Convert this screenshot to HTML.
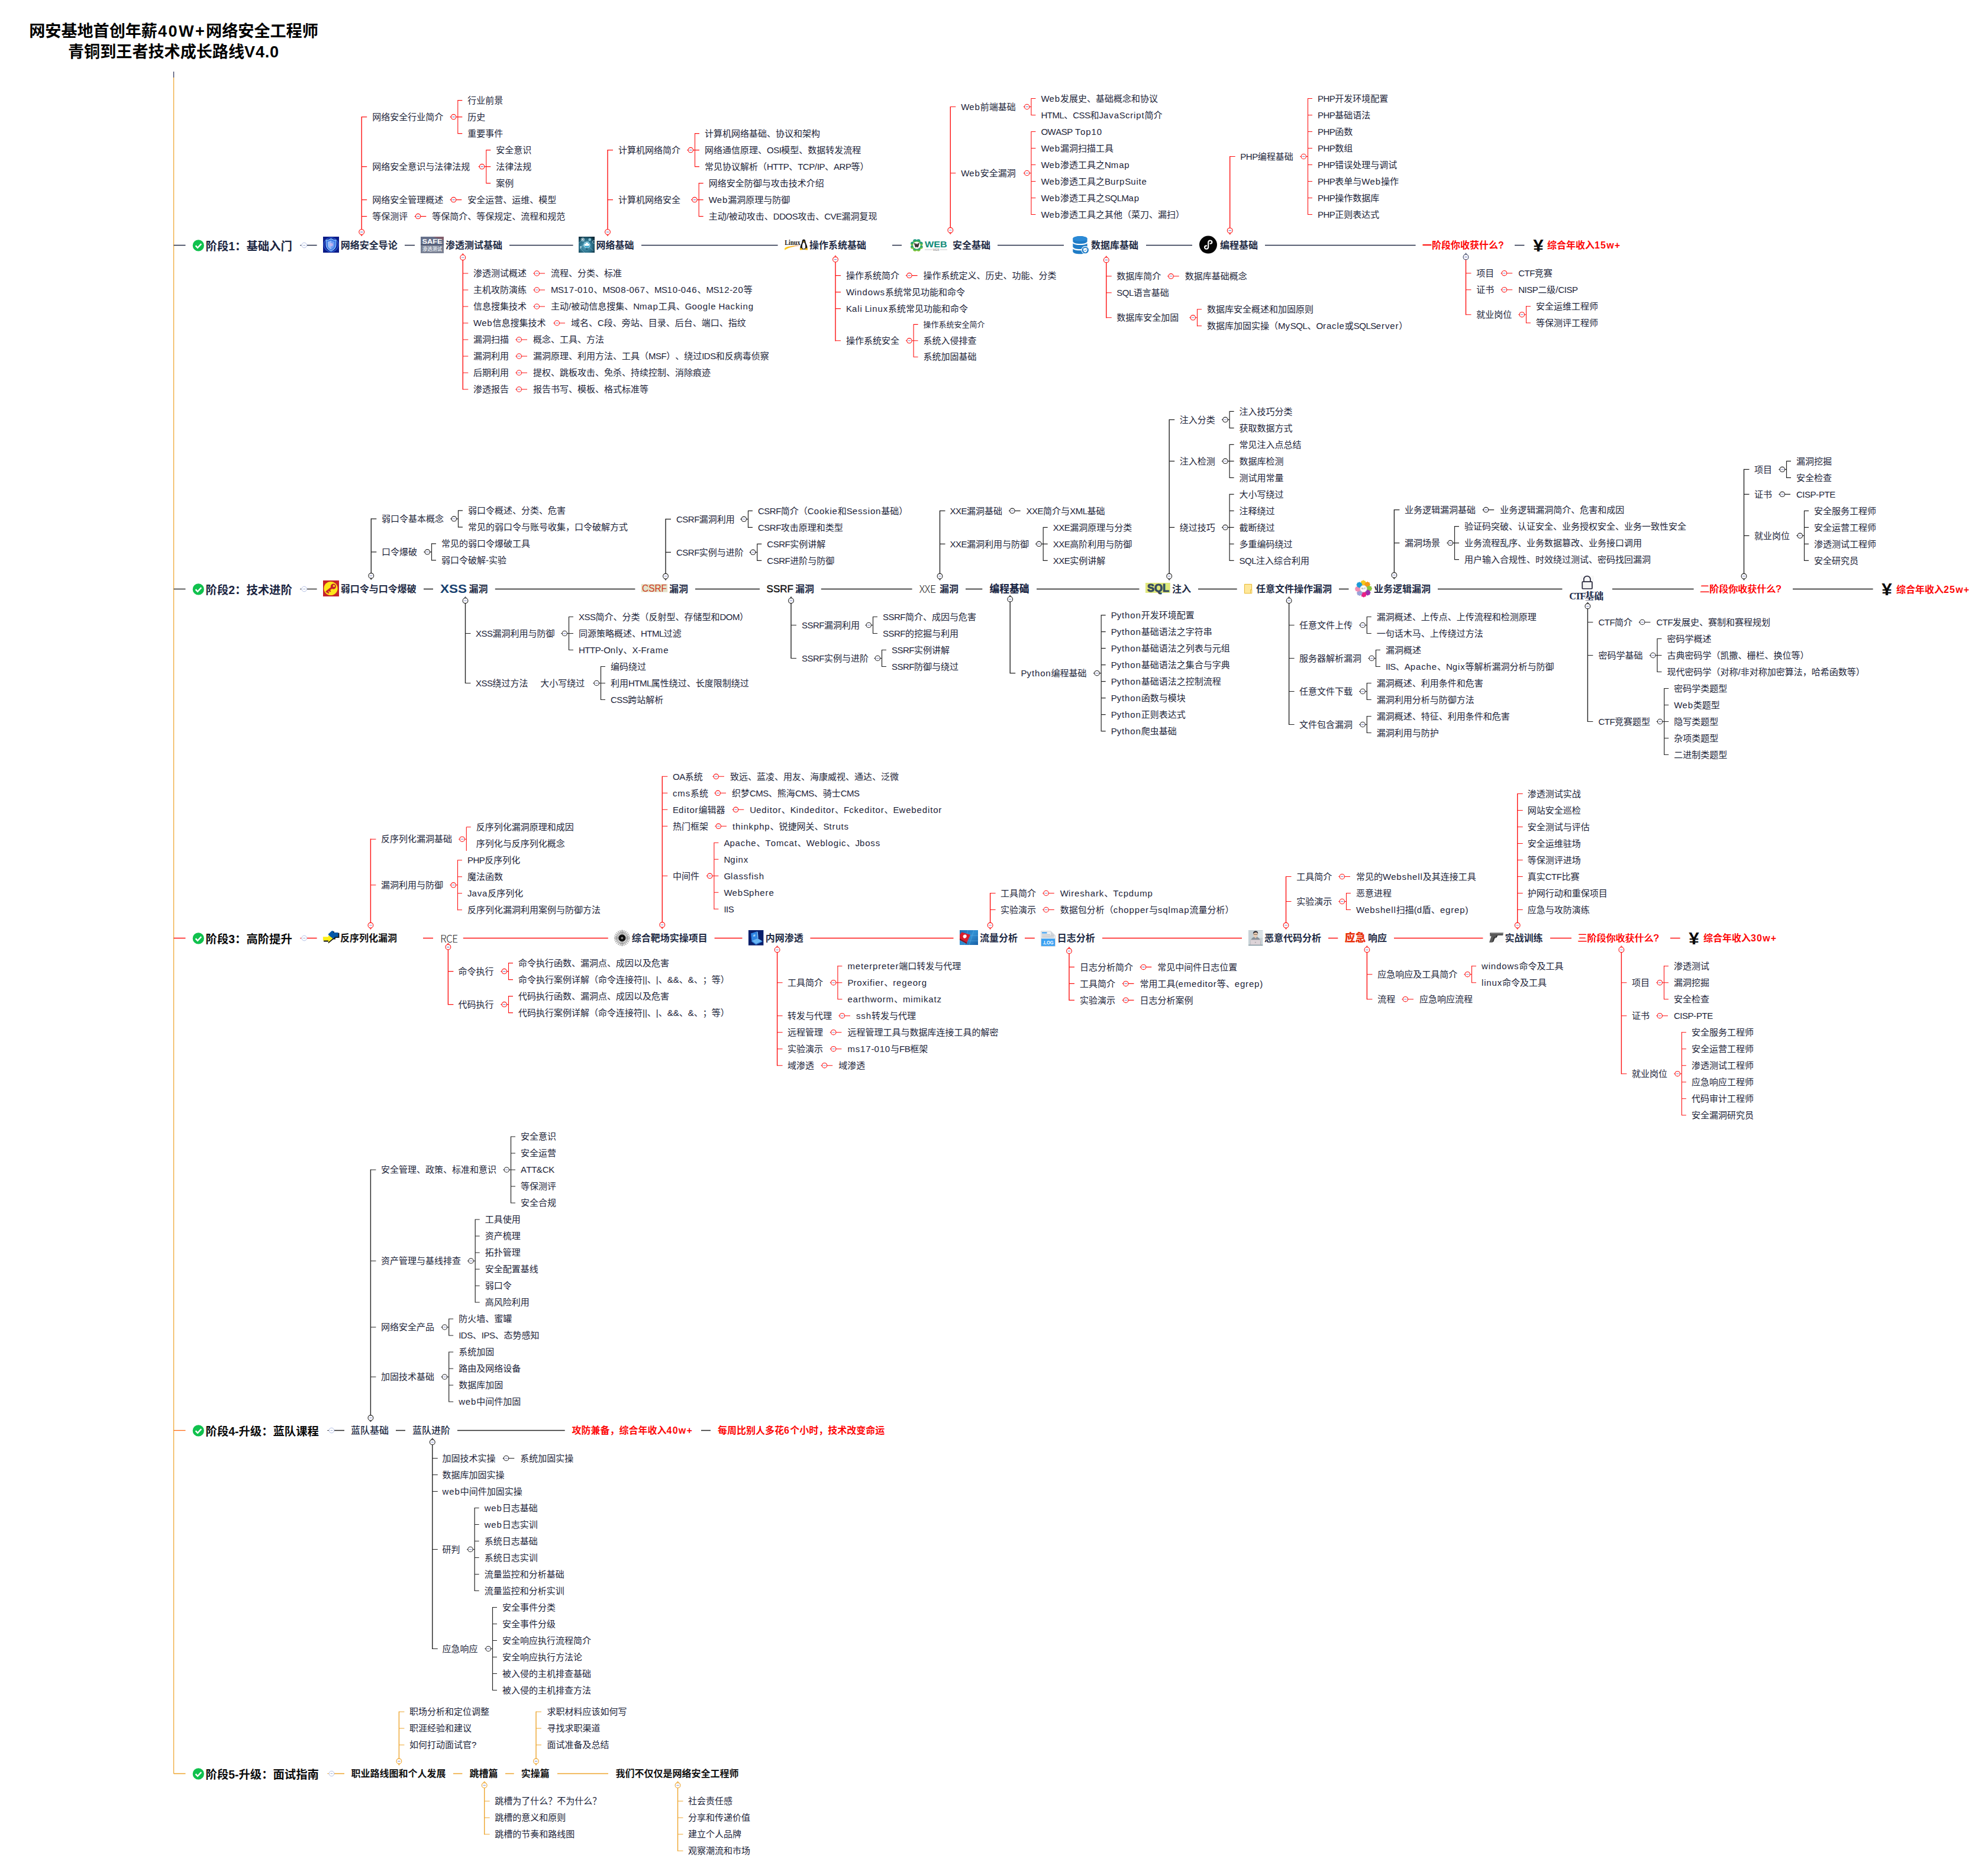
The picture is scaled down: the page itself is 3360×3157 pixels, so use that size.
<!DOCTYPE html><html lang="zh"><head><meta charset="utf-8"><title>网络安全工程师成长路线</title><style>
html,body{margin:0;padding:0;background:#fff}
#c{position:relative;width:3360px;height:3157px;overflow:hidden;background:#fff;font-family:"Liberation Sans","Noto Sans CJK SC",sans-serif;color:#1c2439;text-spacing-trim:space-all;font-kerning:none}
#c span{position:absolute;white-space:pre}
.l{font-size:15px;line-height:20px;margin-top:-9.8px}
.s{font-size:13px;line-height:20px;margin-top:-9.8px}
.t{font-size:16px;line-height:22px;margin-top:-10.6px;font-weight:700;color:#222b45}
.st{font-size:19.35px;line-height:26px;margin-top:-11.7px;font-weight:700;color:#1b2541}
.h1{font-size:27.1px;line-height:36px;font-weight:700;color:#000;text-align:center}
.r{color:#fa0a0a}
.k{color:#111}
#c b{font-weight:inherit;letter-spacing:.85px}
#c i{font-style:normal;letter-spacing:-.5px}
#c u{text-decoration:none;letter-spacing:1.2px}
#c em{font-style:normal;letter-spacing:-2px}

</style></head><body><div id="c">
<svg width="3360" height="3157" viewBox="0 0 3360 3157" style="position:absolute;left:0;top:0">
<path d="M293.6 121V131" stroke="#2a2f55" stroke-width="1.2" fill="none"/>
<path d="M293.6 131V2997.5M674.4 2893H683.4M674.4 2921H683.4M674.4 2949H683.4M818.7 3044H827.7M818.7 3072H827.7M818.7 3100H827.7M906 2893H915M906 2921H915M906 2949H915M1145.5 3044H1154.5M1145.5 3072H1154.5M1145.5 3100H1154.5M1145.5 3128H1154.5" stroke="#eda52e" stroke-width="1.2" fill="none"/>
<path d="M293.6 414.5H313.5M518.8 414.5H535.6M684 414.5H701M861 414.5H968.6M1084 414.5H1314.6M1508 414.5H1524M1686 414.5H1798M1937 414.5H2015M2138 414.5H2392.6M2560 414.5H2576.4" stroke="#222b45" stroke-width="1.3" fill="none"/>
<path d="M507.2 414.5H509.6" stroke="#222b45" stroke-width="1.1" fill="none"/>
<path d="M760.6 197.6H762.4M770.8 197.6H773.8M773.8 169V226.2M773.8 169.6H781.3M773.8 197.6H781.3M773.8 225.6H781.3M808.6 281.6H810.4M818.8 281.6H821.8M821.8 253V310.2M821.8 253.6H829.3M821.8 281.6H829.3M821.8 309.6H829.3M760.6 337.6H762.4M770.8 337.6H780.3M700.6 365.6H702.4M710.8 365.6H720.3M611.2 197.6H620.2M611.2 281.6H620.2M611.2 337.6H620.2M611.2 365.6H620.2M901.3 462H903.1M911.5 462H921M901.3 490H903.1M911.5 490H921M901.3 518H903.1M911.5 518H921M935.3 546H937.1M945.5 546H955M871.3 574H873.1M881.5 574H891M871.3 602H873.1M881.5 602H891M871.3 630H873.1M881.5 630H891M871.3 658H873.1M881.5 658H891M782.3 462H791.3M782.3 490H791.3M782.3 518H791.3M782.3 546H791.3M782.3 574H791.3M782.3 602H791.3M782.3 630H791.3M782.3 658H791.3M1161.3 253.6H1163.1M1171.5 253.6H1174.5M1174.5 225V282.2M1174.5 225.6H1182M1174.5 253.6H1182M1174.5 281.6H1182M1168 337.6H1169.8M1178.2 337.6H1181.2M1181.2 309V366.2M1181.2 309.6H1188.7M1181.2 337.6H1188.7M1181.2 365.6H1188.7M1027 253.6H1036M1027 337.6H1036M1530.9 465.6H1532.7M1541.1 465.6H1550.6M1530.9 575.8H1532.7M1541.1 575.8H1544.1M1544.1 547.8V603.8M1544.1 548.4H1551.6M1544.1 575.8H1551.6M1544.1 603.2H1551.6M1412 465.6H1421M1412 493.6H1421M1412 521.6H1421M1412 575.8H1421M1729.7 180.5H1731.5M1739.9 180.5H1742.9M1742.9 165.9V195.1M1742.9 166.5H1750.4M1742.9 194.5H1750.4M1729.7 292.5H1731.5M1739.9 292.5H1742.9M1742.9 221.9V363.1M1742.9 222.5H1750.4M1742.9 250.5H1750.4M1742.9 278.5H1750.4M1742.9 306.5H1750.4M1742.9 334.5H1750.4M1742.9 362.5H1750.4M1606.3 180.5H1615.3M1606.3 292.5H1615.3M1973.1 466.8H1974.9M1983.3 466.8H1992.8M2010.3 536.8H2012.1M2020.5 536.8H2023.5M2023.5 522.2V551.4M2023.5 522.8H2031M2023.5 550.8H2031M1869.8 466.8H1878.8M1869.8 494.8H1878.8M1869.8 536.8H1878.8M2197.3 264.5H2199.1M2207.5 264.5H2210.5M2210.5 165.9V363.1M2210.5 166.5H2218M2210.5 194.5H2218M2210.5 222.5H2218M2210.5 250.5H2218M2210.5 278.5H2218M2210.5 306.5H2218M2210.5 334.5H2218M2210.5 362.5H2218M2078.7 264.5H2087.7M2536.5 461.7H2538.3M2546.7 461.7H2556.2M2536.5 489.7H2538.3M2546.7 489.7H2556.2M2566.3 531.7H2568.1M2576.5 531.7H2579.5M2579.5 517.1V546.3M2579.5 517.7H2587M2579.5 545.7H2587M2477.5 461.7H2486.5M2477.5 489.7H2486.5M2477.5 531.7H2486.5M507.2 1585.5H509.6M775.1 1418.2H776.9M785.3 1418.2H788.3M788.3 1397.8V1438M788.3 1397.8H795.8M760.3 1495.8H762.1M770.5 1495.8H773.5M773.5 1453.2V1538.4M773.5 1453.8H781M773.5 1481.8H781M773.5 1509.8H781M773.5 1537.8H781M626.4 1418.2H635.4M626.4 1495.8H635.4M846.3 1641.6H848.1M856.5 1641.6H859.5M859.5 1627V1656.2M859.5 1627.6H867M859.5 1655.6H867M846.3 1697.6H848.1M856.5 1697.6H859.5M859.5 1683V1712.2M859.5 1683.6H867M859.5 1711.6H867M757.4 1641.6H766.4M757.4 1697.6H766.4M1204.3 1312.3H1206.1M1214.5 1312.3H1224M1207.3 1340.3H1209.1M1217.5 1340.3H1227M1237.6 1368.3H1239.4M1247.8 1368.3H1257.3M1208.3 1396.3H1210.1M1218.5 1396.3H1228M1193.7 1480.3H1195.5M1203.9 1480.3H1206.9M1206.9 1423.7V1536.9M1206.9 1424.3H1214.4M1206.9 1452.3H1214.4M1206.9 1480.3H1214.4M1206.9 1508.3H1214.4M1206.9 1536.3H1214.4M1119.3 1312.3H1128.3M1119.3 1340.3H1128.3M1119.3 1368.3H1128.3M1119.3 1396.3H1128.3M1119.3 1480.3H1128.3M1402.7 1660.7H1404.5M1412.9 1660.7H1415.9M1415.9 1632.1V1689.3M1415.9 1632.7H1423.4M1415.9 1660.7H1423.4M1415.9 1688.7H1423.4M1417.3 1716.7H1419.1M1427.5 1716.7H1437M1402.7 1744.7H1404.5M1412.9 1744.7H1422.4M1402.7 1772.7H1404.5M1412.9 1772.7H1422.4M1387.5 1800.7H1389.3M1397.7 1800.7H1407.2M1313.6 1660.7H1322.6M1313.6 1716.7H1322.6M1313.6 1744.7H1322.6M1313.6 1772.7H1322.6M1313.6 1800.7H1322.6M1762.1 1509.5H1763.9M1772.3 1509.5H1781.8M1762.1 1537.5H1763.9M1772.3 1537.5H1781.8M1673.6 1509.5H1682.6M1673.6 1537.5H1682.6M1926.6 1634.4H1928.4M1936.8 1634.4H1946.3M1896.8 1662.4H1898.6M1907 1662.4H1916.5M1896.8 1690.4H1898.6M1907 1690.4H1916.5M1807 1634.4H1816M1807 1662.4H1816M1807 1690.4H1816M2262.3 1481.5H2264.1M2272.5 1481.5H2282M2262.3 1523.5H2264.1M2272.5 1523.5H2275.5M2275.5 1508.9V1538.1M2275.5 1509.5H2283M2275.5 1537.5H2283M2173.5 1481.5H2182.5M2173.5 1523.5H2182.5M2474.3 1646.7H2476.1M2484.5 1646.7H2487.5M2487.5 1632.1V1661.3M2487.5 1632.7H2495M2487.5 1660.7H2495M2369.3 1688.7H2371.1M2379.5 1688.7H2389M2310.4 1646.7H2319.4M2310.4 1688.7H2319.4M2564.7 1341.5H2573.7M2564.7 1369.5H2573.7M2564.7 1397.5H2573.7M2564.7 1425.5H2573.7M2564.7 1453.5H2573.7M2564.7 1481.5H2573.7M2564.7 1509.5H2573.7M2564.7 1537.5H2573.7M2799.3 1660.7H2801.1M2809.5 1660.7H2812.5M2812.5 1632.1V1689.3M2812.5 1632.7H2820M2812.5 1660.7H2820M2812.5 1688.7H2820M2799.3 1716.7H2801.1M2809.5 1716.7H2819M2829.2 1814.7H2831M2839.4 1814.7H2842.4M2842.4 1744.1V1885.3M2842.4 1744.7H2849.9M2842.4 1772.7H2849.9M2842.4 1800.7H2849.9M2842.4 1828.7H2849.9M2842.4 1856.7H2849.9M2842.4 1884.7H2849.9M2740.4 1660.7H2749.4M2740.4 1716.7H2749.4M2740.4 1814.7H2749.4" stroke="#fd1212" stroke-width="1.1" fill="none"/>
<path d="M611.2 197V387.9M782.3 439.4V658.6M1027 253V387.9M1412 442.8V576.4M1606.3 179.9V384.8M1869.8 443.6V537.4M2078.7 263.9V385.4M2477.5 438.6V532.3M626.4 1417.6V1559.6M757.4 1604.8V1698.2M1119.3 1311.7V1558.8M1313.6 1609.4V1801.3M1673.6 1508.9V1559.6M1807 1611.5V1691M2173.5 1480.9V1559.6M2310.4 1609.4V1689.3M2564.7 1340.9V1559.6M2740.4 1609.4V1815.3" stroke="#fd1212" stroke-width="1.4" fill="none"/>
<path d="M293.6 995.5H313.5M518.8 995.5H535.6" stroke="#333333" stroke-width="1.3" fill="none"/>
<path d="M507.2 995.5H509.6" stroke="#333333" stroke-width="1.1" fill="none"/>
<path d="M716 995.5H732M836.8 995.5H1073.4M1175 995.5H1284M1387.8 995.5H1541.6M1632 995.5H1660.3M1752 995.5H1925.5M2025 995.5H2090.7M2263 995.5H2279.5M2430 995.5H2640.4M2725 995.5H2862.6M3030 995.5H3165.6" stroke="#1a1a1a" stroke-width="1.3" fill="none"/>
<path d="M761.3 876.8H763.1M771.5 876.8H774.5M774.5 862.2V891.4M774.5 862.8H782M774.5 890.8H782M716.3 932.8H718.1M726.5 932.8H729.5M729.5 918.2V947.4M729.5 918.8H737M729.5 946.8H737M627.3 876.8H636.3M627.3 932.8H636.3M948.3 1070.5H950.1M958.5 1070.5H961.5M961.5 1041.9V1099.1M961.5 1042.5H969M961.5 1070.5H969M961.5 1098.5H969M1002.3 1154.5H1004.1M1012.5 1154.5H1015.5M1015.5 1125.9V1183.1M1015.5 1126.5H1023M1015.5 1154.5H1023M1015.5 1182.5H1023M786.5 1070.5H795.5M786.5 1154.5H795.5M1251.3 877.3H1253.1M1261.5 877.3H1264.5M1264.5 862.7V891.9M1264.5 863.3H1272M1264.5 891.3H1272M1266.6 933.3H1268.4M1276.8 933.3H1279.8M1279.8 918.7V947.9M1279.8 919.3H1287.3M1279.8 947.3H1287.3M1125 877.3H1134M1125 933.3H1134M1462.3 1056.5H1464.1M1472.5 1056.5H1475.5M1475.5 1041.9V1071.1M1475.5 1042.5H1483M1475.5 1070.5H1483M1477.3 1112.5H1479.1M1487.5 1112.5H1490.5M1490.5 1097.9V1127.1M1490.5 1098.5H1498M1490.5 1126.5H1498M1337 1056.5H1346M1337 1112.5H1346M1704.9 863.3H1706.7M1715.1 863.3H1724.6M1750 919.3H1751.8M1760.2 919.3H1763.2M1763.2 890.7V947.9M1763.2 891.3H1770.7M1763.2 919.3H1770.7M1763.2 947.3H1770.7M1588.5 863.3H1597.5M1588.5 919.3H1597.5M1848 1137.7H1849.8M1858.2 1137.7H1861.2M1861.2 1039.1V1236.3M1861.2 1039.7H1868.7M1861.2 1067.7H1868.7M1861.2 1095.7H1868.7M1861.2 1123.7H1868.7M1861.2 1151.7H1868.7M1861.2 1179.7H1868.7M1861.2 1207.7H1868.7M1861.2 1235.7H1868.7M1707.2 1137.7H1716.2M2064.9 709.3H2066.7M2075.1 709.3H2078.1M2078.1 694.7V723.9M2078.1 695.3H2085.6M2078.1 723.3H2085.6M2064.9 779.3H2066.7M2075.1 779.3H2078.1M2078.1 750.7V807.9M2078.1 751.3H2085.6M2078.1 779.3H2085.6M2078.1 807.3H2085.6M2064.9 891.3H2066.7M2075.1 891.3H2078.1M2078.1 834.7V947.9M2078.1 835.3H2085.6M2078.1 863.3H2085.6M2078.1 891.3H2085.6M2078.1 919.3H2085.6M2078.1 947.3H2085.6M1976.2 709.3H1985.2M1976.2 779.3H1985.2M1976.2 891.3H1985.2M2297.1 1056.5H2298.9M2307.3 1056.5H2310.3M2310.3 1041.9V1071.1M2310.3 1042.5H2317.8M2310.3 1070.5H2317.8M2312.3 1112.5H2314.1M2322.5 1112.5H2325.5M2325.5 1097.9V1127.1M2325.5 1098.5H2333M2325.5 1126.5H2333M2297.1 1168.5H2298.9M2307.3 1168.5H2310.3M2310.3 1153.9V1183.1M2310.3 1154.5H2317.8M2310.3 1182.5H2317.8M2297.1 1224.5H2298.9M2307.3 1224.5H2310.3M2310.3 1209.9V1239.1M2310.3 1210.5H2317.8M2310.3 1238.5H2317.8M2178.6 1056.5H2187.6M2178.6 1112.5H2187.6M2178.6 1168.5H2187.6M2178.6 1224.5H2187.6M2505.5 861.6H2507.3M2515.7 861.6H2525.2M2445.3 917.6H2447.1M2455.5 917.6H2458.5M2458.5 889V946.2M2458.5 889.6H2466M2458.5 917.6H2466M2458.5 945.6H2466M2356.4 861.6H2365.4M2356.4 917.6H2365.4M2769.7 1051.5H2771.5M2779.9 1051.5H2789.4M2787.8 1107.5H2789.6M2798 1107.5H2801M2801 1078.9V1136.1M2801 1079.5H2808.5M2801 1107.5H2808.5M2801 1135.5H2808.5M2799.6 1219.5H2801.4M2809.8 1219.5H2812.8M2812.8 1162.9V1276.1M2812.8 1163.5H2820.3M2812.8 1191.5H2820.3M2812.8 1219.5H2820.3M2812.8 1247.5H2820.3M2812.8 1275.5H2820.3M2683.4 1051.5H2692.4M2683.4 1107.5H2692.4M2683.4 1219.5H2692.4M3006.3 793.3H3008.1M3016.5 793.3H3019.5M3019.5 778.7V807.9M3019.5 779.3H3027M3019.5 807.3H3027M3006.3 835.3H3008.1M3016.5 835.3H3026M3036.3 905.3H3038.1M3046.5 905.3H3049.5M3049.5 862.7V947.9M3049.5 863.3H3057M3049.5 891.3H3057M3049.5 919.3H3057M3049.5 947.3H3057M2947.5 793.3H2956.5M2947.5 835.3H2956.5M2947.5 905.3H2956.5M850.3 1977H852.1M860.5 1977H863.5M863.5 1920.4V2033.6M863.5 1921H871M863.5 1949H871M863.5 1977H871M863.5 2005H871M863.5 2033H871M790 2131H791.8M800.2 2131H803.2M803.2 2060.4V2201.6M803.2 2061H810.7M803.2 2089H810.7M803.2 2117H810.7M803.2 2145H810.7M803.2 2173H810.7M803.2 2201H810.7M745.5 2243H747.3M755.7 2243H758.7M758.7 2228.4V2257.6M758.7 2229H766.2M758.7 2257H766.2M745.5 2327H747.3M755.7 2327H758.7M758.7 2284.4V2369.6M758.7 2285H766.2M758.7 2313H766.2M758.7 2341H766.2M758.7 2369H766.2M626.4 1977H635.4M626.4 2131H635.4M626.4 2243H635.4M626.4 2327H635.4M849.6 2464.5H851.4M859.8 2464.5H869.3M789 2618.5H790.8M799.2 2618.5H802.2M802.2 2547.9V2689.1M802.2 2548.5H809.7M802.2 2576.5H809.7M802.2 2604.5H809.7M802.2 2632.5H809.7M802.2 2660.5H809.7M802.2 2688.5H809.7M819.3 2786.5H821.1M829.5 2786.5H832.5M832.5 2715.9V2857.1M832.5 2716.5H840M832.5 2744.5H840M832.5 2772.5H840M832.5 2800.5H840M832.5 2828.5H840M832.5 2856.5H840M730.8 2464.5H739.8M730.8 2492.5H739.8M730.8 2520.5H739.8M730.8 2618.5H739.8M730.8 2786.5H739.8" stroke="#222" stroke-width="1.2" fill="none"/>
<path d="M627.3 876.2V968.8M786.5 1019.4V1155.1M1125 876.7V969.6M1337 1019.4V1113.1M1588.5 862.7V969.6M1707.2 1016.9V1138.3M1976.2 708.7V969.6M2178.6 1019.4V1225.1M2356.4 861V967.8M2683.4 1028.7V1220.1M2947.5 792.7V969.6M626.4 1976.4V2392.1M730.8 2441.5V2787.1" stroke="#222" stroke-width="1.4" fill="none"/>
<path d="M293.6 1585.5H313.5M518.8 1585.5H535.6M715 1585.5H732M782.8 1585.5H1027.8M1207.6 1585.5H1254.5M1369.4 1585.5H1611.5M1732 1585.5H1748.8M1863 1585.5H2099M2245 1585.5H2261.3M2356 1585.5H2506.4M2620 1585.5H2656M2823 1585.5H2839.7" stroke="#fd1212" stroke-width="1.3" fill="none"/>
<path d="M293.6 2417.5H313.5" stroke="#ff6a13" stroke-width="1.3" fill="none"/>
<path d="M565 2417.5H582M669 2417.5H685M773 2417.5H954.7M1185 2417.5H1201" stroke="#222" stroke-width="1.3" fill="none"/>
<path d="M553.4 2417.5H555.8" stroke="#222" stroke-width="1.1" fill="none"/>
<path d="M293.6 2997.5H313.5M565 2997.5H582M766 2997.5H781.4M854 2997.5H868.7M942 2997.5H1028" stroke="#eda52e" stroke-width="1.3" fill="none"/>
<path d="M553.4 2997.5H555.8" stroke="#eda52e" stroke-width="1.1" fill="none"/>
<path d="M674.4 2892.4V2972.3M818.7 3021.5V3100.6M906 2892.4V2972.3M1145.5 3021.5V3128.6" stroke="#eda52e" stroke-width="1.4" fill="none"/>
<circle cx="335.3" cy="414.9" r="9.6" fill="#10c14d"/><path d="M330.6 415.1 l3.4 3.6 l6.2 -6.6" stroke="#fff" stroke-width="2.4" fill="none"/>
<circle cx="514.2" cy="414.5" r="4.3" fill="#fff" stroke="#b4c0e6" stroke-width="1"/>
<circle cx="766.6" cy="197.6" r="4.2" fill="#fff" stroke="#fd1212" stroke-width="1.1"/>
<circle cx="814.6" cy="281.6" r="4.2" fill="#fff" stroke="#fd1212" stroke-width="1.1"/>
<circle cx="766.6" cy="337.6" r="4.2" fill="#fff" stroke="#fd1212" stroke-width="1.1"/>
<circle cx="706.6" cy="365.6" r="4.2" fill="#fff" stroke="#fd1212" stroke-width="1.1"/>
<path d="M609.6 396.2l1.6 2.6l1.6-2.600" fill="none" stroke="#fd1212" stroke-width="1"/>
<circle cx="611.2" cy="392.1" r="4.4" fill="#fff" stroke="#fd1212" stroke-width="1.1"/>
<circle cx="907.3" cy="462" r="4.2" fill="#fff" stroke="#fd1212" stroke-width="1.1"/>
<circle cx="907.3" cy="490" r="4.2" fill="#fff" stroke="#fd1212" stroke-width="1.1"/>
<circle cx="907.3" cy="518" r="4.2" fill="#fff" stroke="#fd1212" stroke-width="1.1"/>
<circle cx="941.3" cy="546" r="4.2" fill="#fff" stroke="#fd1212" stroke-width="1.1"/>
<circle cx="877.3" cy="574" r="4.2" fill="#fff" stroke="#fd1212" stroke-width="1.1"/>
<circle cx="877.3" cy="602" r="4.2" fill="#fff" stroke="#fd1212" stroke-width="1.1"/>
<circle cx="877.3" cy="630" r="4.2" fill="#fff" stroke="#fd1212" stroke-width="1.1"/>
<circle cx="877.3" cy="658" r="4.2" fill="#fff" stroke="#fd1212" stroke-width="1.1"/>
<path d="M780.7 431.1l1.6-2.600l1.600 2.600" fill="none" stroke="#fd1212" stroke-width="1"/>
<circle cx="782.3" cy="435.2" r="4.4" fill="#fff" stroke="#fd1212" stroke-width="1.1"/>
<circle cx="1167.3" cy="253.6" r="4.2" fill="#fff" stroke="#fd1212" stroke-width="1.1"/>
<circle cx="1174" cy="337.6" r="4.2" fill="#fff" stroke="#fd1212" stroke-width="1.1"/>
<path d="M1025.4 396.2l1.6 2.6l1.6-2.600" fill="none" stroke="#fd1212" stroke-width="1"/>
<circle cx="1027" cy="392.1" r="4.4" fill="#fff" stroke="#fd1212" stroke-width="1.1"/>
<circle cx="1536.9" cy="465.6" r="4.2" fill="#fff" stroke="#fd1212" stroke-width="1.1"/>
<circle cx="1536.9" cy="575.8" r="4.2" fill="#fff" stroke="#fd1212" stroke-width="1.1"/>
<path d="M1410.4 434.5l1.6-2.600l1.600 2.600" fill="none" stroke="#fd1212" stroke-width="1"/>
<circle cx="1412" cy="438.6" r="4.4" fill="#fff" stroke="#fd1212" stroke-width="1.1"/>
<circle cx="1735.7" cy="180.5" r="4.2" fill="#fff" stroke="#fd1212" stroke-width="1.1"/>
<circle cx="1735.7" cy="292.5" r="4.2" fill="#fff" stroke="#fd1212" stroke-width="1.1"/>
<path d="M1604.7 393.1l1.6 2.6l1.6-2.600" fill="none" stroke="#fd1212" stroke-width="1"/>
<circle cx="1606.3" cy="389" r="4.4" fill="#fff" stroke="#fd1212" stroke-width="1.1"/>
<circle cx="1979.1" cy="466.8" r="4.2" fill="#fff" stroke="#fd1212" stroke-width="1.1"/>
<circle cx="2016.3" cy="536.8" r="4.2" fill="#fff" stroke="#fd1212" stroke-width="1.1"/>
<path d="M1868.2 435.3l1.6-2.600l1.600 2.600" fill="none" stroke="#fd1212" stroke-width="1"/>
<circle cx="1869.8" cy="439.4" r="4.4" fill="#fff" stroke="#fd1212" stroke-width="1.1"/>
<circle cx="2203.3" cy="264.5" r="4.2" fill="#fff" stroke="#fd1212" stroke-width="1.1"/>
<path d="M2077.1 393.7l1.6 2.6l1.6-2.600" fill="none" stroke="#fd1212" stroke-width="1"/>
<circle cx="2078.7" cy="389.6" r="4.4" fill="#fff" stroke="#fd1212" stroke-width="1.1"/>
<circle cx="2542.5" cy="461.7" r="4.2" fill="#fff" stroke="#fd1212" stroke-width="1.1"/>
<circle cx="2542.5" cy="489.7" r="4.2" fill="#fff" stroke="#fd1212" stroke-width="1.1"/>
<circle cx="2572.3" cy="531.7" r="4.2" fill="#fff" stroke="#fd1212" stroke-width="1.1"/>
<path d="M2475.9 430.3l1.6-2.600l1.600 2.600" fill="none" stroke="#3a4263" stroke-width="1"/>
<circle cx="2477.5" cy="434.4" r="4.4" fill="#fff" stroke="#3a4263" stroke-width="1.1"/>
<circle cx="335.3" cy="995.9" r="9.6" fill="#10c14d"/><path d="M330.6 996.1 l3.4 3.6 l6.2 -6.6" stroke="#fff" stroke-width="2.4" fill="none"/>
<circle cx="514.2" cy="995.5" r="4.3" fill="#fff" stroke="#b4c0e6" stroke-width="1"/>
<circle cx="767.3" cy="876.8" r="4.2" fill="#fff" stroke="#222" stroke-width="1.1"/>
<circle cx="722.3" cy="932.8" r="4.2" fill="#fff" stroke="#222" stroke-width="1.1"/>
<path d="M625.7 977.1l1.6 2.6l1.6-2.600" fill="none" stroke="#222" stroke-width="1"/>
<circle cx="627.3" cy="973" r="4.4" fill="#fff" stroke="#222" stroke-width="1.1"/>
<circle cx="954.3" cy="1070.5" r="4.2" fill="#fff" stroke="#222" stroke-width="1.1"/>
<circle cx="1008.3" cy="1154.5" r="4.2" fill="#fff" stroke="#222" stroke-width="1.1"/>
<path d="M784.9 1011.1l1.6-2.600l1.600 2.600" fill="none" stroke="#222" stroke-width="1"/>
<circle cx="786.5" cy="1015.2" r="4.4" fill="#fff" stroke="#222" stroke-width="1.1"/>
<circle cx="1257.3" cy="877.3" r="4.2" fill="#fff" stroke="#222" stroke-width="1.1"/>
<circle cx="1272.6" cy="933.3" r="4.2" fill="#fff" stroke="#222" stroke-width="1.1"/>
<path d="M1123.4 977.9l1.6 2.6l1.6-2.600" fill="none" stroke="#222" stroke-width="1"/>
<circle cx="1125" cy="973.8" r="4.4" fill="#fff" stroke="#222" stroke-width="1.1"/>
<circle cx="1468.3" cy="1056.5" r="4.2" fill="#fff" stroke="#222" stroke-width="1.1"/>
<circle cx="1483.3" cy="1112.5" r="4.2" fill="#fff" stroke="#222" stroke-width="1.1"/>
<path d="M1335.4 1011.1l1.6-2.600l1.600 2.600" fill="none" stroke="#222" stroke-width="1"/>
<circle cx="1337" cy="1015.2" r="4.4" fill="#fff" stroke="#222" stroke-width="1.1"/>
<circle cx="1710.9" cy="863.3" r="4.2" fill="#fff" stroke="#222" stroke-width="1.1"/>
<circle cx="1756" cy="919.3" r="4.2" fill="#fff" stroke="#222" stroke-width="1.1"/>
<path d="M1586.9 977.9l1.6 2.6l1.6-2.600" fill="none" stroke="#222" stroke-width="1"/>
<circle cx="1588.5" cy="973.8" r="4.4" fill="#fff" stroke="#222" stroke-width="1.1"/>
<circle cx="1854" cy="1137.7" r="4.2" fill="#fff" stroke="#222" stroke-width="1.1"/>
<path d="M1705.6 1008.6l1.6-2.600l1.600 2.600" fill="none" stroke="#222" stroke-width="1"/>
<circle cx="1707.2" cy="1012.7" r="4.4" fill="#fff" stroke="#222" stroke-width="1.1"/>
<circle cx="2070.9" cy="709.3" r="4.2" fill="#fff" stroke="#222" stroke-width="1.1"/>
<circle cx="2070.9" cy="779.3" r="4.2" fill="#fff" stroke="#222" stroke-width="1.1"/>
<circle cx="2070.9" cy="891.3" r="4.2" fill="#fff" stroke="#222" stroke-width="1.1"/>
<path d="M1974.6 977.9l1.6 2.6l1.6-2.600" fill="none" stroke="#222" stroke-width="1"/>
<circle cx="1976.2" cy="973.8" r="4.4" fill="#fff" stroke="#222" stroke-width="1.1"/>
<circle cx="2303.1" cy="1056.5" r="4.2" fill="#fff" stroke="#222" stroke-width="1.1"/>
<circle cx="2318.3" cy="1112.5" r="4.2" fill="#fff" stroke="#222" stroke-width="1.1"/>
<circle cx="2303.1" cy="1168.5" r="4.2" fill="#fff" stroke="#222" stroke-width="1.1"/>
<circle cx="2303.1" cy="1224.5" r="4.2" fill="#fff" stroke="#222" stroke-width="1.1"/>
<path d="M2177 1011.1l1.6-2.600l1.600 2.600" fill="none" stroke="#222" stroke-width="1"/>
<circle cx="2178.6" cy="1015.2" r="4.4" fill="#fff" stroke="#222" stroke-width="1.1"/>
<circle cx="2511.5" cy="861.6" r="4.2" fill="#fff" stroke="#222" stroke-width="1.1"/>
<circle cx="2451.3" cy="917.6" r="4.2" fill="#fff" stroke="#222" stroke-width="1.1"/>
<path d="M2354.8 976.1l1.6 2.6l1.6-2.600" fill="none" stroke="#222" stroke-width="1"/>
<circle cx="2356.4" cy="972" r="4.4" fill="#fff" stroke="#222" stroke-width="1.1"/>
<circle cx="2775.7" cy="1051.5" r="4.2" fill="#fff" stroke="#222" stroke-width="1.1"/>
<circle cx="2793.8" cy="1107.5" r="4.2" fill="#fff" stroke="#222" stroke-width="1.1"/>
<circle cx="2805.6" cy="1219.5" r="4.2" fill="#fff" stroke="#222" stroke-width="1.1"/>
<path d="M2681.8 1020.4l1.6-2.600l1.600 2.600" fill="none" stroke="#222" stroke-width="1"/>
<circle cx="2683.4" cy="1024.5" r="4.4" fill="#fff" stroke="#222" stroke-width="1.1"/>
<circle cx="3012.3" cy="793.3" r="4.2" fill="#fff" stroke="#222" stroke-width="1.1"/>
<circle cx="3012.3" cy="835.3" r="4.2" fill="#fff" stroke="#222" stroke-width="1.1"/>
<circle cx="3042.3" cy="905.3" r="4.2" fill="#fff" stroke="#222" stroke-width="1.1"/>
<path d="M2945.9 977.9l1.6 2.6l1.6-2.600" fill="none" stroke="#222" stroke-width="1"/>
<circle cx="2947.5" cy="973.8" r="4.4" fill="#fff" stroke="#222" stroke-width="1.1"/>
<circle cx="335.3" cy="1585.9" r="9.6" fill="#10c14d"/><path d="M330.6 1586.1 l3.4 3.6 l6.2 -6.6" stroke="#fff" stroke-width="2.4" fill="none"/>
<circle cx="514.2" cy="1585.5" r="4.3" fill="#fff" stroke="#b4c0e6" stroke-width="1"/>
<circle cx="781.1" cy="1418.2" r="4.2" fill="#fff" stroke="#fd1212" stroke-width="1.1"/>
<circle cx="766.3" cy="1495.8" r="4.2" fill="#fff" stroke="#fd1212" stroke-width="1.1"/>
<path d="M624.8 1567.9l1.6 2.6l1.6-2.600" fill="none" stroke="#fd1212" stroke-width="1"/>
<circle cx="626.4" cy="1563.8" r="4.4" fill="#fff" stroke="#fd1212" stroke-width="1.1"/>
<circle cx="852.3" cy="1641.6" r="4.2" fill="#fff" stroke="#fd1212" stroke-width="1.1"/>
<circle cx="852.3" cy="1697.6" r="4.2" fill="#fff" stroke="#fd1212" stroke-width="1.1"/>
<path d="M755.8 1596.5l1.6-2.600l1.600 2.600" fill="none" stroke="#fd1212" stroke-width="1"/>
<circle cx="757.4" cy="1600.6" r="4.4" fill="#fff" stroke="#fd1212" stroke-width="1.1"/>
<circle cx="1210.3" cy="1312.3" r="4.2" fill="#fff" stroke="#fd1212" stroke-width="1.1"/>
<circle cx="1213.3" cy="1340.3" r="4.2" fill="#fff" stroke="#fd1212" stroke-width="1.1"/>
<circle cx="1243.6" cy="1368.3" r="4.2" fill="#fff" stroke="#fd1212" stroke-width="1.1"/>
<circle cx="1214.3" cy="1396.3" r="4.2" fill="#fff" stroke="#fd1212" stroke-width="1.1"/>
<circle cx="1199.7" cy="1480.3" r="4.2" fill="#fff" stroke="#fd1212" stroke-width="1.1"/>
<path d="M1117.7 1567.1l1.6 2.6l1.6-2.600" fill="none" stroke="#fd1212" stroke-width="1"/>
<circle cx="1119.3" cy="1563" r="4.4" fill="#fff" stroke="#fd1212" stroke-width="1.1"/>
<circle cx="1408.7" cy="1660.7" r="4.2" fill="#fff" stroke="#fd1212" stroke-width="1.1"/>
<circle cx="1423.3" cy="1716.7" r="4.2" fill="#fff" stroke="#fd1212" stroke-width="1.1"/>
<circle cx="1408.7" cy="1744.7" r="4.2" fill="#fff" stroke="#fd1212" stroke-width="1.1"/>
<circle cx="1408.7" cy="1772.7" r="4.2" fill="#fff" stroke="#fd1212" stroke-width="1.1"/>
<circle cx="1393.5" cy="1800.7" r="4.2" fill="#fff" stroke="#fd1212" stroke-width="1.1"/>
<path d="M1312 1601.1l1.6-2.600l1.600 2.600" fill="none" stroke="#fd1212" stroke-width="1"/>
<circle cx="1313.6" cy="1605.2" r="4.4" fill="#fff" stroke="#fd1212" stroke-width="1.1"/>
<circle cx="1768.1" cy="1509.5" r="4.2" fill="#fff" stroke="#fd1212" stroke-width="1.1"/>
<circle cx="1768.1" cy="1537.5" r="4.2" fill="#fff" stroke="#fd1212" stroke-width="1.1"/>
<path d="M1672 1567.9l1.6 2.6l1.6-2.600" fill="none" stroke="#fd1212" stroke-width="1"/>
<circle cx="1673.6" cy="1563.8" r="4.4" fill="#fff" stroke="#fd1212" stroke-width="1.1"/>
<circle cx="1932.6" cy="1634.4" r="4.2" fill="#fff" stroke="#fd1212" stroke-width="1.1"/>
<circle cx="1902.8" cy="1662.4" r="4.2" fill="#fff" stroke="#fd1212" stroke-width="1.1"/>
<circle cx="1902.8" cy="1690.4" r="4.2" fill="#fff" stroke="#fd1212" stroke-width="1.1"/>
<path d="M1805.4 1603.2l1.6-2.600l1.600 2.600" fill="none" stroke="#fd1212" stroke-width="1"/>
<circle cx="1807" cy="1607.3" r="4.4" fill="#fff" stroke="#fd1212" stroke-width="1.1"/>
<circle cx="2268.3" cy="1481.5" r="4.2" fill="#fff" stroke="#fd1212" stroke-width="1.1"/>
<circle cx="2268.3" cy="1523.5" r="4.2" fill="#fff" stroke="#fd1212" stroke-width="1.1"/>
<path d="M2171.9 1567.9l1.6 2.6l1.6-2.600" fill="none" stroke="#fd1212" stroke-width="1"/>
<circle cx="2173.5" cy="1563.8" r="4.4" fill="#fff" stroke="#fd1212" stroke-width="1.1"/>
<circle cx="2480.3" cy="1646.7" r="4.2" fill="#fff" stroke="#fd1212" stroke-width="1.1"/>
<circle cx="2375.3" cy="1688.7" r="4.2" fill="#fff" stroke="#fd1212" stroke-width="1.1"/>
<path d="M2308.8 1601.1l1.6-2.600l1.600 2.600" fill="none" stroke="#fd1212" stroke-width="1"/>
<circle cx="2310.4" cy="1605.2" r="4.4" fill="#fff" stroke="#fd1212" stroke-width="1.1"/>
<path d="M2563.1 1567.9l1.6 2.6l1.6-2.600" fill="none" stroke="#fd1212" stroke-width="1"/>
<circle cx="2564.7" cy="1563.8" r="4.4" fill="#fff" stroke="#fd1212" stroke-width="1.1"/>
<circle cx="2805.3" cy="1660.7" r="4.2" fill="#fff" stroke="#fd1212" stroke-width="1.1"/>
<circle cx="2805.3" cy="1716.7" r="4.2" fill="#fff" stroke="#fd1212" stroke-width="1.1"/>
<circle cx="2835.2" cy="1814.7" r="4.2" fill="#fff" stroke="#fd1212" stroke-width="1.1"/>
<path d="M2738.8 1601.1l1.6-2.600l1.600 2.600" fill="none" stroke="#fd1212" stroke-width="1"/>
<circle cx="2740.4" cy="1605.2" r="4.4" fill="#fff" stroke="#fd1212" stroke-width="1.1"/>
<circle cx="335.3" cy="2417.9" r="9.6" fill="#10c14d"/><path d="M330.6 2418.1 l3.4 3.6 l6.2 -6.6" stroke="#fff" stroke-width="2.4" fill="none"/>
<circle cx="560.4" cy="2417.5" r="4.3" fill="#fff" stroke="#b4c0e6" stroke-width="1"/>
<circle cx="856.3" cy="1977" r="4.2" fill="#fff" stroke="#222" stroke-width="1.1"/>
<circle cx="796" cy="2131" r="4.2" fill="#fff" stroke="#222" stroke-width="1.1"/>
<circle cx="751.5" cy="2243" r="4.2" fill="#fff" stroke="#222" stroke-width="1.1"/>
<circle cx="751.5" cy="2327" r="4.2" fill="#fff" stroke="#222" stroke-width="1.1"/>
<path d="M624.8 2400.4l1.6 2.6l1.6-2.600" fill="none" stroke="#222" stroke-width="1"/>
<circle cx="626.4" cy="2396.3" r="4.4" fill="#fff" stroke="#222" stroke-width="1.1"/>
<circle cx="855.6" cy="2464.5" r="4.2" fill="#fff" stroke="#222" stroke-width="1.1"/>
<circle cx="795" cy="2618.5" r="4.2" fill="#fff" stroke="#222" stroke-width="1.1"/>
<circle cx="825.3" cy="2786.5" r="4.2" fill="#fff" stroke="#222" stroke-width="1.1"/>
<path d="M729.2 2433.2l1.6-2.600l1.600 2.600" fill="none" stroke="#222" stroke-width="1"/>
<circle cx="730.8" cy="2437.3" r="4.4" fill="#fff" stroke="#222" stroke-width="1.1"/>
<circle cx="335.3" cy="2997.9" r="9.6" fill="#10c14d"/><path d="M330.6 2998.1 l3.4 3.6 l6.2 -6.6" stroke="#fff" stroke-width="2.4" fill="none"/>
<circle cx="560.4" cy="2997.5" r="4.3" fill="#fff" stroke="#b4c0e6" stroke-width="1"/>
<path d="M672.8 2980.6l1.6 2.6l1.6-2.600" fill="none" stroke="#eda52e" stroke-width="1"/>
<circle cx="674.4" cy="2976.5" r="4.4" fill="#fff" stroke="#eda52e" stroke-width="1.1"/>
<path d="M817.1 3013.2l1.6-2.600l1.600 2.600" fill="none" stroke="#eda52e" stroke-width="1"/>
<circle cx="818.7" cy="3017.3" r="4.4" fill="#fff" stroke="#eda52e" stroke-width="1.1"/>
<path d="M904.4 2980.6l1.6 2.6l1.6-2.600" fill="none" stroke="#eda52e" stroke-width="1"/>
<circle cx="906" cy="2976.5" r="4.4" fill="#fff" stroke="#eda52e" stroke-width="1.1"/>
<path d="M1143.9 3013.2l1.6-2.600l1.600 2.600" fill="none" stroke="#eda52e" stroke-width="1"/>
<circle cx="1145.5" cy="3017.3" r="4.4" fill="#fff" stroke="#eda52e" stroke-width="1.1"/>
<path d="M764.4 197.6h4.4M812.4 281.6h4.4M764.4 337.6h4.4M704.4 365.6h4.4M609 392.1h4.4M905.1 462h4.4M905.1 490h4.4M905.1 518h4.4M939.1 546h4.4M875.1 574h4.4M875.1 602h4.4M875.1 630h4.4M875.1 658h4.4M780.1 435.2h4.4M1165.1 253.6h4.4M1171.8 337.6h4.4M1024.8 392.1h4.4M1534.7 465.6h4.4M1534.7 575.8h4.4M1409.8 438.6h4.4M1733.5 180.5h4.4M1733.5 292.5h4.4M1604.1 389h4.4M1976.9 466.8h4.4M2014.1 536.8h4.4M1867.6 439.4h4.4M2201.1 264.5h4.4M2076.5 389.6h4.4M2540.3 461.7h4.4M2540.3 489.7h4.4M2570.1 531.7h4.4M2475.3 434.4h4.4M765.1 876.8h4.4M720.1 932.8h4.4M625.1 973h4.4M952.1 1070.5h4.4M1006.1 1154.5h4.4M784.3 1015.2h4.4M1255.1 877.3h4.4M1270.4 933.3h4.4M1122.8 973.8h4.4M1466.1 1056.5h4.4M1481.1 1112.5h4.4M1334.8 1015.2h4.4M1708.7 863.3h4.4M1753.8 919.3h4.4M1586.3 973.8h4.4M1851.8 1137.7h4.4M1705 1012.7h4.4M2068.7 709.3h4.4M2068.7 779.3h4.4M2068.7 891.3h4.4M1974 973.8h4.4M2300.9 1056.5h4.4M2316.1 1112.5h4.4M2300.9 1168.5h4.4M2300.9 1224.5h4.4M2176.4 1015.2h4.4M2509.3 861.6h4.4M2449.1 917.6h4.4M2354.2 972h4.4M2773.5 1051.5h4.4M2791.6 1107.5h4.4M2803.4 1219.5h4.4M2681.2 1024.5h4.4M3010.1 793.3h4.4M3010.1 835.3h4.4M3040.1 905.3h4.4M2945.3 973.8h4.4M778.9 1418.2h4.4M764.1 1495.8h4.4M624.2 1563.8h4.4M850.1 1641.6h4.4M850.1 1697.6h4.4M755.2 1600.6h4.4M1208.1 1312.3h4.4M1211.1 1340.3h4.4M1241.4 1368.3h4.4M1212.1 1396.3h4.4M1197.5 1480.3h4.4M1117.1 1563h4.4M1406.5 1660.7h4.4M1421.1 1716.7h4.4M1406.5 1744.7h4.4M1406.5 1772.7h4.4M1391.3 1800.7h4.4M1311.4 1605.2h4.4M1765.9 1509.5h4.4M1765.9 1537.5h4.4M1671.4 1563.8h4.4M1930.4 1634.4h4.4M1900.6 1662.4h4.4M1900.6 1690.4h4.4M1804.8 1607.3h4.4M2266.1 1481.5h4.4M2266.1 1523.5h4.4M2171.3 1563.8h4.4M2478.1 1646.7h4.4M2373.1 1688.7h4.4M2308.2 1605.2h4.4M2562.5 1563.8h4.4M2803.1 1660.7h4.4M2803.1 1716.7h4.4M2833 1814.7h4.4M2738.2 1605.2h4.4M854.1 1977h4.4M793.8 2131h4.4M749.3 2243h4.4M749.3 2327h4.4M624.2 2396.3h4.4M853.4 2464.5h4.4M792.8 2618.5h4.4M823.1 2786.5h4.4M728.6 2437.3h4.4M672.2 2976.5h4.4M816.5 3017.3h4.4M903.8 2976.5h4.4M1143.3 3017.3h4.4" stroke="#8088cc" stroke-width="1.1" fill="none"/>
<path d="M512.4 414.5h3.6" stroke="#9fb0d8" stroke-width="1"/>
<path d="M512.4 995.5h3.6" stroke="#9fb0d8" stroke-width="1"/>
<path d="M512.4 1585.5h3.6" stroke="#9fb0d8" stroke-width="1"/>
<path d="M558.6 2417.5h3.6" stroke="#9fb0d8" stroke-width="1"/>
<path d="M558.6 2997.5h3.6" stroke="#9fb0d8" stroke-width="1"/>
<g transform="translate(546,400)"><rect width="27" height="27" fill="#0b1a86"/><circle cx="13.5" cy="13.5" r="12" fill="#12249a" stroke="#2c63d8" stroke-width="1.2"/><path d="M13.5 3.5c3 2 6 2.6 8.3 2.6v8c0 5-4 8.2-8.3 10.2c-4.300-2-8.300-5.200-8.300-10.200v-8c2.300 0 5.300-.6 8.300-2.600z" fill="#3b78e6" stroke="#9fd8ff" stroke-width="1.1"/><path d="M13.5 6.500c2 1.300 4 1.800 5.600 1.900v5.800c0 3.600-2.800 5.900-5.600 7.500c-2.800-1.600-5.600-3.900-5.600-7.500v-5.800c1.600-.1 3.600-.6 5.600-1.900z" fill="#6f9cf2"/><path d="M13.5 6.500c-2 1.300-4 1.800-5.600 1.900v5.800c0 3.600 2.800 5.900 5.600 7.500z" fill="#a8c8fa" opacity=".75"/><circle cx="14" cy="13.500" r="2.800" fill="#d9b8ee" opacity=".75"/></g>
<g transform="translate(711,400)"><rect width="39" height="27.700" fill="#66708a"/><path d="M20 0h19v6z" fill="#8a5560" opacity=".7"/><rect y="12.500" width="39" height="2" fill="#4a5470"/><rect y="14.500" width="39" height="13.200" fill="#787f92"/><text x="19.500" y="11.800" text-anchor="middle" font-family="Liberation Sans,sans-serif" font-weight="700" font-size="11.500" fill="#fff" textLength="34" lengthAdjust="spacingAndGlyphs">SAFE</text><text x="19.500" y="24.200" text-anchor="middle" font-family="Noto Sans CJK SC,sans-serif" font-weight="700" font-size="8.600" fill="#dfe2ea" textLength="33" lengthAdjust="spacingAndGlyphs">渗透测试</text></g>
<g transform="translate(978,400)"><defs><radialGradient id="gn" cx=".45" cy=".6" r=".75"><stop offset="0" stop-color="#55a6c4"/><stop offset=".55" stop-color="#2a6f88"/><stop offset="1" stop-color="#08212e"/></radialGradient></defs><rect width="27" height="27" fill="url(#gn)"/><path d="M0 11L7 5M7 5L13 13M18.500 5L13 13M13 13L25 24M2 19L10 27M13 13L3 17" stroke="#bfe3ee" stroke-width=".6" opacity=".7"/><circle cx="7" cy="4.800" r="2.600" fill="none" stroke="#e6f6fb" stroke-width=".8"/><circle cx="7" cy="4.800" r="1.200" fill="#fff"/><circle cx="18.800" cy="4.800" r="2.400" fill="#9fdcf0" opacity=".8"/><circle cx="25.500" cy="9" r="2.200" fill="none" stroke="#cfeaf3" stroke-width=".7"/><circle cx="14" cy="14" r="5.200" fill="#3aa6cc" stroke="#d9f1f8" stroke-width=".8"/><path d="M10.800 15.600a1.900 1.900 0 0 1 .6-3.700a2.700 2.700 0 0 1 5-.2a2 2 0 0 1 .3 3.900z" fill="#fff"/><rect x="12" y="19.500" width="3.500" height="2.500" fill="#1d5a73"/><rect x="2.500" y="16" width="2.200" height="3.600" fill="#cfeaf3" opacity=".8"/></g>
<g transform="translate(1325,394)"><defs><linearGradient id="gl" x1="0" x2="1"><stop offset="0" stop-color="#ffd21a"/><stop offset=".6" stop-color="#f8a10a"/><stop offset="1" stop-color="#e8410a"/></linearGradient></defs><path d="M1 26.500c0-3 8-5 27-5.800c-14 2-22 4.300-26.500 8z" fill="url(#gl)"/><text x="1.200" y="19.700" font-family="Liberation Serif,serif" font-weight="700" font-size="11.500" fill="#1c1c1c" textLength="26.500" lengthAdjust="spacingAndGlyphs">Linux</text><path d="M33.500 10.600c-2.200 0-3 2-3 4c0 2.500-3 6-3 9.500c0 2 1 3 2 3.300h8c1-.3 2-1.300 2-3.300c0-3.500-3-7-3-9.500c0-2-.8-4-3-4z" fill="#151515"/><path d="M33.500 15.500c-1.500 0-2.700 4-2.700 7.500c0 2 1 3.500 2.700 3.500s2.700-1.500 2.700-3.500c0-3.500-1.200-7.500-2.700-7.500z" fill="#fff"/><path d="M32.300 14.200l1.200 1.300l1.300-1.300l-1.300-.6z" fill="#f5b90a"/><path d="M26.600 25.500l4.200 0l.8 2.700l-4.600 .2z M40.400 25.500l-4.200 0l-.8 2.700l4.600 .2z" fill="#f5b90a"/></g>
<g><defs><linearGradient id="gw" x1="0" y1="0" x2="0" y2="1"><stop offset="0" stop-color="#16968c"/><stop offset=".45" stop-color="#2fa66a"/><stop offset="1" stop-color="#a8d428"/></linearGradient></defs>
<g fill="url(#gw)"><circle cx="1549.400" cy="414.600" r="8.600"/><circle cx="1556.4" cy="417.5" r="3.300"/><circle cx="1552.3" cy="421.6" r="3.300"/><circle cx="1546.5" cy="421.6" r="3.300"/><circle cx="1542.4" cy="417.5" r="3.300"/><circle cx="1542.4" cy="411.7" r="3.300"/><circle cx="1546.5" cy="407.6" r="3.300"/><circle cx="1552.3" cy="407.6" r="3.300"/><circle cx="1556.4" cy="411.7" r="3.300"/></g>
<circle cx="1549.400" cy="414.600" r="6.200" fill="#fff"/><path d="M1545.300 411.300l1.700 0l1 3l1.400-2.600l1.400 2.600l1-3l1.700 0l-2 6.400l-1.300 0l-.8-1.800l-.8 1.800l-1.300 0z" fill="#3a3230" stroke="#3a3230" stroke-width=".9" stroke-linejoin="round"/>
<text x="1563" y="417.800" font-family="Liberation Sans,sans-serif" font-weight="700" font-size="14" fill="#0f8b78" textLength="37.800" lengthAdjust="spacingAndGlyphs">WEB</text><path d="M1563 422h12.500M1588.500 422h12.500" stroke="#c9c9c9" stroke-width="1.100"/><text x="1582" y="423.900" text-anchor="middle" font-family="Liberation Sans,sans-serif" font-size="4.800" fill="#888">WEB</text></g>
<g transform="translate(1813.300,399)" fill="#1f7cc6"><path d="M0 4.500c0-6 24.300-6 24.300 0v4.200c0 2.800-5.400 4.300-12.150 4.300S0 11.500 0 8.700z"/><ellipse cx="12.150" cy="4.400" rx="12.150" ry="4.200" fill="#2b8ad6"/><path d="M0 12.300c2 2 7 2.800 12.150 2.800s10.150-.8 12.150-2.800v5.500c0 2.800-5.400 4.300-12.150 4.300S0 20.600 0 17.800z"/><path d="M0 21.400c2 2 7 2.800 12.150 2.800s10.150-.8 12.150-2.800v4.600c0 2.800-5.400 4.300-12.150 4.300S0 28.800 0 26z"/><circle cx="21" cy="23.600" r="6.800" fill="#fff"/><circle cx="21" cy="23.600" r="5.700"/><path d="M21 19.700c1.200 .8 2.300 1 3.300 1v3c0 2-1.600 3.200-3.300 4c-1.700-.8-3.300-2-3.300-4v-3c1 0 2.100-.2 3.300-1z" fill="#fff"/><path d="M19.400 23.700l1.200 1.300l2.200-2.500" stroke="#1f7cc6" stroke-width="1" fill="none"/></g>
<g><circle cx="2042" cy="413.600" r="15" fill="#050505"/><path d="M2042.200 417.500c0 4.200-6.200 4.200-6.200 .6c0-2 1.800-2.700 3-2.700M2042.200 417.500v-7.800c0-4.200 6.200-4.200 6.200-.6c0 2-1.800 2.700-3 2.700" stroke="#fff" stroke-width="2.100" fill="none" stroke-linecap="round"/></g>
<text x="2599.9" y="425.2" text-anchor="middle" font-family="Liberation Sans,sans-serif" font-weight="700" font-size="29" fill="#0a0a0a" textLength="17.500" lengthAdjust="spacingAndGlyphs">¥</text>
<text x="3189" y="1006.2" text-anchor="middle" font-family="Liberation Sans,sans-serif" font-weight="700" font-size="29" fill="#0a0a0a" textLength="17.500" lengthAdjust="spacingAndGlyphs">¥</text>
<text x="2862.9" y="1595.5" text-anchor="middle" font-family="Liberation Sans,sans-serif" font-weight="700" font-size="29" fill="#0a0a0a" textLength="17.500" lengthAdjust="spacingAndGlyphs">¥</text>
<g transform="translate(546,981)"><rect width="27" height="27" fill="#c5232b"/><circle cx="13" cy="13.500" r="11.600" fill="#ffe61a"/><g transform="rotate(-38 13 13.500)" fill="#c5232b"><circle cx="18.600" cy="13.500" r="4.600"/><rect x="3" y="12" width="12" height="3.200"/><rect x="4" y="14" width="2.400" height="4"/><rect x="8" y="14" width="2.400" height="3.600"/></g><circle cx="18.400" cy="9.300" r="1.700" fill="#ffe61a"/></g>
<text x="744" y="1002" font-family="Liberation Sans,sans-serif" font-weight="700" font-size="20" fill="#163f6e" textLength="45" lengthAdjust="spacingAndGlyphs">XSS</text>
<rect x="1083.800" y="987" width="44.400" height="13.800" fill="#e4e1c9"/><text x="1085" y="1000.200" font-family="Liberation Sans,sans-serif" font-size="16.800" fill="#cd3a22" textLength="42" lengthAdjust="spacingAndGlyphs">CSRF</text>
<rect x="1936" y="985" width="41.800" height="17" fill="#dfe87c"/><text x="1939" y="999.800" font-family="Liberation Sans,sans-serif" font-weight="700" font-size="17.600" fill="#34495e" stroke="#34495e" stroke-width=".9" textLength="37" lengthAdjust="spacingAndGlyphs">SQL</text>
<path d="M2103.400 987.400h12.200v9.400h-2v6h-10.200z" fill="#ffe89a" stroke="#e8b72a" stroke-width="1"/><path d="M2113.600 996.800h2.200v6h-2.200z" fill="#fff3c4" stroke="#e8b72a" stroke-width=".9"/>
<path d="M2309.4 985.4L2308.1 987.1L2307.8 989.1L2305.8 989.4L2304.2 990.6L2302.5 989.4L2300.5 989.1L2300.2 987.1L2299.0 985.4L2300.2 983.8L2300.5 981.7L2302.5 981.4L2304.2 980.2L2305.8 981.4L2307.8 981.7L2308.1 983.8z" fill="#f6c61a"/>
<path d="M2316.2 988.0L2315.0 989.6L2314.7 991.7L2312.7 992.0L2311.0 993.2L2309.4 992.0L2307.4 991.7L2307.1 989.6L2305.8 988.0L2307.1 986.3L2307.4 984.3L2309.4 984.0L2311.0 982.8L2312.7 984.0L2314.7 984.3L2315.0 986.3z" fill="#f59a14"/>
<path d="M2319.3 994.7L2318.1 996.3L2317.8 998.3L2315.7 998.6L2314.1 999.9L2312.4 998.6L2310.4 998.3L2310.1 996.3L2308.9 994.7L2310.1 993.0L2310.4 991.0L2312.4 990.7L2314.1 989.5L2315.7 990.7L2317.8 991.0L2318.1 993.0z" fill="#8cc63f"/>
<path d="M2316.7 1001.5L2315.5 1003.2L2315.2 1005.2L2313.2 1005.5L2311.5 1006.7L2309.9 1005.5L2307.8 1005.2L2307.5 1003.2L2306.3 1001.5L2307.5 999.9L2307.8 997.9L2309.9 997.6L2311.5 996.3L2313.2 997.6L2315.2 997.9L2315.5 999.9z" fill="#9b2fae"/>
<path d="M2310.0 1004.6L2308.8 1006.2L2308.5 1008.3L2306.5 1008.6L2304.8 1009.8L2303.2 1008.6L2301.2 1008.3L2300.9 1006.2L2299.6 1004.6L2300.9 1002.9L2301.2 1000.9L2303.2 1000.6L2304.8 999.4L2306.5 1000.6L2308.5 1000.9L2308.8 1002.9z" fill="#ea1f86"/>
<path d="M2303.2 1002.0L2301.9 1003.7L2301.6 1005.7L2299.6 1006.0L2298.0 1007.2L2296.3 1006.0L2294.3 1005.7L2294.0 1003.7L2292.8 1002.0L2294.0 1000.4L2294.3 998.3L2296.3 998.0L2298.0 996.8L2299.6 998.0L2301.6 998.3L2301.9 1000.4z" fill="#9aa3d8"/>
<path d="M2300.1 995.3L2298.9 997.0L2298.6 999.0L2296.6 999.3L2294.9 1000.5L2293.3 999.3L2291.2 999.0L2290.9 997.0L2289.7 995.3L2290.9 993.7L2291.2 991.7L2293.3 991.4L2294.9 990.1L2296.6 991.4L2298.6 991.7L2298.9 993.7z" fill="#f08cb4"/>
<path d="M2302.7 988.5L2301.5 990.1L2301.2 992.1L2299.1 992.4L2297.5 993.7L2295.8 992.4L2293.8 992.1L2293.5 990.1L2292.3 988.5L2293.5 986.8L2293.8 984.8L2295.8 984.5L2297.5 983.3L2299.1 984.5L2301.2 984.8L2301.5 986.8z" fill="#1c9ad6"/>
<circle cx="2304.500" cy="995" r="5.800" fill="#fff" stroke="#c8c8c8" stroke-width=".8"/><text x="2304.500" y="996.300" text-anchor="middle" font-family="Liberation Sans,sans-serif" font-size="3.600" fill="#555">SLIT</text>
<rect x="2671.400" y="973" width="22.400" height="23" fill="#f8f8f8"/><path d="M2676.900 982.400v-3.300a5.500 5.500 0 0 1 11 0v3.300" fill="none" stroke="#26263a" stroke-width="1.700"/><rect x="2674.300" y="983.100" width="16.600" height="11.900" rx="1" fill="#f4f4f4" stroke="#26263a" stroke-width="1.700"/>
<g transform="translate(545.900,1573)"><path d="M9.800 6.800L16 1.200h3v2.600h8.500v8.200h-6.500v2.400h-5z" fill="#111"/><path d="M8.600 6L14.800 .2h2.600v2.700h8.300v7.600h-6.300v2.500h-4.600z" fill="#0458a8"/><path d="M1.200 11.200h9v-2.800l7.800 5.600l-9 7.600v-3.200h-7.800z" fill="#111"/><path d="M0 10.200h9v-3l7.600 5.800l-7.600 6.400v-3h-9z" fill="#fff018"/></g>
<circle cx="1051.400" cy="1585.300" r="13.600" fill="#f1f1f1"/><path d="M1057.4 1585.3L1064.9 1585.3M1057.2 1586.9L1064.4 1588.8M1056.6 1588.3L1063.1 1592.0M1055.6 1589.5L1060.9 1594.8M1054.4 1590.5L1058.2 1597.0M1053.0 1591.1L1054.9 1598.3M1051.4 1591.3L1051.4 1598.8M1049.8 1591.1L1047.9 1598.3M1048.4 1590.5L1044.7 1597.0M1047.2 1589.5L1041.9 1594.8M1046.2 1588.3L1039.7 1592.0M1045.6 1586.9L1038.4 1588.8M1045.4 1585.3L1037.9 1585.3M1045.6 1583.7L1038.4 1581.8M1046.2 1582.3L1039.7 1578.5M1047.2 1581.1L1041.9 1575.8M1048.4 1580.1L1044.7 1573.6M1049.8 1579.5L1047.9 1572.3M1051.4 1579.3L1051.4 1571.8M1053.0 1579.5L1054.9 1572.3M1054.4 1580.1L1058.2 1573.6M1055.6 1581.1L1060.9 1575.8M1056.6 1582.3L1063.1 1578.5M1057.2 1583.7L1064.4 1581.8" stroke="#444" stroke-width=".6"/><circle cx="1051.400" cy="1585.300" r="9.500" fill="none" stroke="#777" stroke-width=".6"/><circle cx="1051.400" cy="1585.300" r="6" fill="#0c0c0c"/><circle cx="1051.400" cy="1585.300" r="1.600" fill="#ddd"/><path d="M1051.400 1571.500v27.600M1038 1585.300h27" stroke="#444" stroke-width=".5"/>
<g transform="translate(1265,1572)"><rect width="25.400" height="25.700" fill="#0a1f6c"/><path d="M4.200 5.500l10.200-3.300l.9 11.500l-10 4.300z" fill="#2f84e4"/><path d="M14.400 2.200l1.400 .7l.8 11.200l-1.300-.4z" fill="#8fd0ff"/><path d="M5.300 18l10-4.300l8 4.800l-10.600 5z" fill="#69b7f5"/><path d="M5.300 18l7.400 5.500v1.300l-7.400-5.400zM12.700 23.500l10.600-5v1.200l-10.600 5.100z" fill="#2f84e4"/><path d="M8.200 8l3.200-1l.2 3l-3.200 1.200z" fill="#bfe4ff" opacity=".8"/></g>
<g transform="translate(1622,1572)"><defs><linearGradient id="gt" x1="0" y1="0" x2="1" y2="1"><stop offset="0" stop-color="#1d6eb6"/><stop offset=".5" stop-color="#2f8fd2"/><stop offset="1" stop-color="#1a5fa4"/></linearGradient></defs><rect width="31" height="25" fill="url(#gt)"/><path d="M14 0l-6 25M24 0l-8 25M0 9h31M0 18h31" stroke="#67b6ea" stroke-width=".7" opacity=".7"/><path d="M3.500 3.500l14.500 4.300l-5.800 13l-12.200-6.800v-6z" fill="#d81d2b"/><path d="M0 14l12.200 6.800v2.400l-12.200-6.800z" fill="#8c0f18"/><path d="M5.500 10.500c.4-2.600 3.200-3.600 5.200-2.400c1.600 1 1.300 3.400-.2 4.600c-1.500 1.200-3.200 1.200-4 .4z" fill="#fff"/></g>
<g transform="translate(1759,1573.700)"><path d="M.5 0h16.500l7.500 7.500v18h-24z" fill="#eef0f2" stroke="#c4c9cf" stroke-width=".7"/><path d="M17 0l7.500 7.500h-7.500z" fill="#cfd4da"/><rect x="2" y="1.700" width="8.500" height="2.200" fill="#3a9df0"/><path d="M2 6h14M2 8.200h20.500M2 10.300h20.500" stroke="#a9afb6" stroke-width=".9"/><rect x="1" y="12.600" width="23" height="12.500" fill="#3aa0f2"/><text x="12.500" y="22.400" text-anchor="middle" font-family="Liberation Sans,sans-serif" font-weight="700" font-size="8.400" fill="#fff" textLength="18.500" lengthAdjust="spacingAndGlyphs">.LOG</text></g>
<g transform="translate(2110,1572)"><rect width="24.300" height="26" fill="#c8d2d7"/><rect x="16" y="1" width="8" height="12" fill="#dbe3e7"/><path d="M3 24c0-8 3-11.500 6-12.300h6c3 .8 6 4.300 6 12.300z" fill="#87919a"/><path d="M9.600 11l2.400 3l2.400-3z" fill="#e9c9b0"/><circle cx="12" cy="7.200" r="3.700" fill="#edcdb3"/><path d="M8 6.600c-.4-3.400 1.600-5.200 4.200-5.200c2.600 0 4.400 1.700 3.900 5c-.8-1.700-1.800-2.600-3.200-2.600c-2 0-3.800 .8-4.900 2.800z" fill="#2b2b33"/><path d="M8.800 7.300h6.400" stroke="#333" stroke-width=".7"/><rect x="3.300" y="16.200" width="17" height="9" fill="#dcd3d7" stroke="#c2b9be" stroke-width=".5"/><rect y="24.800" width="24.300" height="1.200" fill="#6f8792"/><circle cx="11.800" cy="20.700" r=".9" fill="#a99fa5"/></g>
<g transform="translate(2517,1575.700)"><rect x=".5" y="0" width="23.500" height="17.300" fill="#f6f6f6" opacity=".6"/><path d="M1 1.200l1.600-1h21v4.200l-1 .8h-7.600c-1.400 0-2.400 1-2.800 2.200l-1 2.300h-2.400l-3.300 7.300h-5.500l3.600-10.500h-2.200z" fill="#5a5a5a"/><path d="M2.600 .2h21v1.600h-21z" fill="#9a9a9a"/><path d="M8 7.500l2.200 .2l-3 8.300h-2z" fill="#333"/><path d="M11.300 5.500h3.400c-1.200 .8-1.800 2-2 3.300h-1.400z" fill="#222"/></g>
</svg>
<span class="h1" style="left:0px;top:52.5px;width:587px;margin-top:-18px">网安基地首创年薪<u style="letter-spacing:2.4px;margin-left:1px">40W+</u>网络安全工程师</span>
<span class="h1" style="left:0px;top:88px;width:587px;margin-top:-18px">青铜到王者技术成长路线<u style="letter-spacing:.8px">V4.0</u></span>
<span class="st" style="left:347.6px;top:414.5px;color:#1b2541">阶段1：基础入门</span>
<span class="t" style="left:575.7px;top:414.5px;">网络安全导论</span>
<span class="t" style="left:753px;top:414.5px;">渗透测试基础</span>
<span class="t" style="left:1007.5px;top:414.5px;">网络基础</span>
<span class="t" style="left:1368px;top:414.5px;">操作系统基础</span>
<span class="t" style="left:1610px;top:414.5px;">安全基础</span>
<span class="t" style="left:1844px;top:414.5px;">数据库基础</span>
<span class="t" style="left:2062px;top:414.5px;">编程基础</span>
<span class="t" style="left:2404px;top:414.5px;color:#fd0808">一阶段你收获什么?</span>
<span class="t" style="left:2615px;top:414.5px;color:#fd0808">综合年收入<u>15w+</u></span>
<span class="l" style="left:790.3px;top:169.6px;">行业前景</span>
<span class="l" style="left:790.3px;top:197.6px;">历史</span>
<span class="l" style="left:790.3px;top:225.6px;">重要事件</span>
<span class="l" style="left:629.3px;top:197.6px;">网络安全行业简介</span>
<span class="l" style="left:838.3px;top:253.6px;">安全意识</span>
<span class="l" style="left:838.3px;top:281.6px;">法律法规</span>
<span class="l" style="left:838.3px;top:309.6px;">案例</span>
<span class="l" style="left:629.3px;top:281.6px;">网络安全意识与法律法规</span>
<span class="l" style="left:629.3px;top:337.6px;">网络安全管理概述</span>
<span class="l" style="left:790.3px;top:337.6px;">安全运营、运维、模型</span>
<span class="l" style="left:629.3px;top:365.6px;">等保测评</span>
<span class="l" style="left:730.3px;top:365.6px;">等保简介、等保规定、流程和规范</span>
<span class="l" style="left:800px;top:462px;">渗透测试概述</span>
<span class="l" style="left:931px;top:462px;">流程、分类、标准</span>
<span class="l" style="left:800px;top:490px;">主机攻防演练</span>
<span class="l" style="left:931px;top:490px;"><i>MS</i><b>17</b>-<b>010</b>、<i>MS</i><b>08</b>-<b>067</b>、<i>MS</i><b>10</b>-<b>046</b>、<i>MS</i><b>12</b>-<b>20</b>等</span>
<span class="l" style="left:800px;top:518px;">信息搜集技术</span>
<span class="l" style="left:931px;top:518px;">主动/被动信息搜集、N<b>map</b>工具、G<b>oogle</b> H<b>acking</b></span>
<span class="l" style="left:800px;top:546px;">W<b>eb</b>信息搜集技术</span>
<span class="l" style="left:965px;top:546px;">域名、C段、旁站、目录、后台、端口、指纹</span>
<span class="l" style="left:800px;top:574px;">漏洞扫描</span>
<span class="l" style="left:901px;top:574px;">概念、工具、方法</span>
<span class="l" style="left:800px;top:602px;">漏洞利用</span>
<span class="l" style="left:901px;top:602px;">漏洞原理、利用方法、工具（<i>MSF</i>）、绕过<i>IDS</i>和反病毒侦察</span>
<span class="l" style="left:800px;top:630px;">后期利用</span>
<span class="l" style="left:901px;top:630px;">提权、跳板攻击、免杀、持续控制、消除痕迹</span>
<span class="l" style="left:800px;top:658px;">渗透报告</span>
<span class="l" style="left:901px;top:658px;">报告书写、模板、格式标准等</span>
<span class="l" style="left:1191px;top:225.6px;">计算机网络基础、协议和架构</span>
<span class="l" style="left:1191px;top:253.6px;">网络通信原理、<i>OSI</i>模型、数据转发流程</span>
<span class="l" style="left:1191px;top:281.6px;">常见协议解析（<i>HTTP</i>、<i>TCP</i>/<i>IP</i>、<i>ARP</i>等）</span>
<span class="l" style="left:1045px;top:253.6px;">计算机网络简介</span>
<span class="l" style="left:1197.7px;top:309.6px;">网络安全防御与攻击技术介绍</span>
<span class="l" style="left:1197.7px;top:337.6px;">W<b>eb</b>漏洞原理与防御</span>
<span class="l" style="left:1197.7px;top:365.6px;">主动/被动攻击、<i>DDOS</i>攻击、<i>CVE</i>漏洞复现</span>
<span class="l" style="left:1045px;top:337.6px;">计算机网络安全</span>
<span class="l" style="left:1430px;top:465.6px;">操作系统简介</span>
<span class="l" style="left:1560.6px;top:465.6px;">操作系统定义、历史、功能、分类</span>
<span class="l" style="left:1430px;top:493.6px;">W<b>indows</b>系统常见功能和命令</span>
<span class="l" style="left:1430px;top:521.6px;">K<b>ali</b> L<b>inux</b>系统常见功能和命令</span>
<span class="s" style="left:1560.6px;top:548.4px;">操作系统安全简介</span>
<span class="l" style="left:1560.6px;top:575.8px;">系统入侵排查</span>
<span class="l" style="left:1560.6px;top:603.2px;">系统加固基础</span>
<span class="l" style="left:1430px;top:575.8px;">操作系统安全</span>
<span class="l" style="left:1759.4px;top:166.5px;">W<b>eb</b>发展史、基础概念和协议</span>
<span class="l" style="left:1759.4px;top:194.5px;"><i>HTML</i>、<i>CSS</i>和J<b>ava</b>S<b>cript</b>简介</span>
<span class="l" style="left:1624.2px;top:180.5px;">W<b>eb</b>前端基础</span>
<span class="l" style="left:1759.4px;top:222.5px;"><i>OWASP</i> T<b>op10</b></span>
<span class="l" style="left:1759.4px;top:250.5px;">W<b>eb</b>漏洞扫描工具</span>
<span class="l" style="left:1759.4px;top:278.5px;">W<b>eb</b>渗透工具之N<b>map</b></span>
<span class="l" style="left:1759.4px;top:306.5px;">W<b>eb</b>渗透工具之B<b>urp</b>S<b>uite</b></span>
<span class="l" style="left:1759.4px;top:334.5px;">W<b>eb</b>渗透工具之<i>SQLM</i><b>ap</b></span>
<span class="l" style="left:1759.4px;top:362.5px;">W<b>eb</b>渗透工具之其他（菜刀、漏扫）</span>
<span class="l" style="left:1624.2px;top:292.5px;">W<b>eb</b>安全漏洞</span>
<span class="l" style="left:1887.3px;top:466.8px;">数据库简介</span>
<span class="l" style="left:2002.8px;top:466.8px;">数据库基础概念</span>
<span class="l" style="left:1887.3px;top:494.8px;"><i>SQL</i>语言基础</span>
<span class="l" style="left:2040px;top:522.8px;">数据库安全概述和加固原则</span>
<span class="l" style="left:2040px;top:550.8px;">数据库加固实操（M<b>y</b><i>SQL</i>、O<b>racle</b>或<i>SQLS</i><b>erver</b>）</span>
<span class="l" style="left:1887.3px;top:536.8px;">数据库安全加固</span>
<span class="l" style="left:2227px;top:166.5px;"><i>PHP</i>开发环境配置</span>
<span class="l" style="left:2227px;top:194.5px;"><i>PHP</i>基础语法</span>
<span class="l" style="left:2227px;top:222.5px;"><i>PHP</i>函数</span>
<span class="l" style="left:2227px;top:250.5px;"><i>PHP</i>数组</span>
<span class="l" style="left:2227px;top:278.5px;"><i>PHP</i>错误处理与调试</span>
<span class="l" style="left:2227px;top:306.5px;"><i>PHP</i>表单与W<b>eb</b>操作</span>
<span class="l" style="left:2227px;top:334.5px;"><i>PHP</i>操作数据库</span>
<span class="l" style="left:2227px;top:362.5px;"><i>PHP</i>正则表达式</span>
<span class="l" style="left:2096.3px;top:264.5px;"><i>PHP</i>编程基础</span>
<span class="l" style="left:2495.2px;top:461.7px;">项目</span>
<span class="l" style="left:2566.2px;top:461.7px;"><i>CTF</i>竞赛</span>
<span class="l" style="left:2495.2px;top:489.7px;">证书</span>
<span class="l" style="left:2566.2px;top:489.7px;"><i>NISP</i>二级/<i>CISP</i></span>
<span class="l" style="left:2596px;top:517.7px;">安全运维工程师</span>
<span class="l" style="left:2596px;top:545.7px;">等保测评工程师</span>
<span class="l" style="left:2495.2px;top:531.7px;">就业岗位</span>
<span class="st" style="left:347.6px;top:995.5px;color:#1b2541">阶段2：技术进阶</span>
<span class="t" style="left:575.7px;top:995.5px;">弱口令与口令爆破</span>
<span class="t" style="left:792.5px;top:995.5px;">漏洞</span>
<span class="t" style="left:1131px;top:995.5px;">漏洞</span>
<span class="t" style="left:1295.6px;top:995.5px;color:#111;font-size:17px;font-weight:400;-webkit-text-stroke:.45px #111">SSRF</span>
<span class="t" style="left:1344px;top:995.5px;">漏洞</span>
<span class="t" style="left:1553.8px;top:995px;font-weight:300;font-size:17.5px;color:#222;letter-spacing:-.4px;font-family:'Noto Sans CJK SC',sans-serif">XXE</span>
<span class="t" style="left:1588px;top:995.5px;">漏洞</span>
<span class="t" style="left:1672.6px;top:995.5px;font-weight:900;font-size:16.7px;color:#1f2a48">编程基础</span>
<span class="t" style="left:1981px;top:995.5px;">注入</span>
<span class="t" style="left:2123px;top:995.5px;">任意文件操作漏洞</span>
<span class="t" style="left:2322px;top:995.5px;">业务逻辑漏洞</span>
<span class="t" style="left:2652.3px;top:1008px;font-family:'Liberation Serif','Noto Serif CJK SC',serif;font-weight:900;font-size:16px;color:#1a2a4a"><em>CTF</em>基础</span>
<span class="t" style="left:2873px;top:995.5px;color:#ff0000;font-weight:400;text-shadow:.8px 0 #ff0000">二阶段你收获什么?</span>
<span class="t" style="left:3205px;top:996.5px;color:#fd0808">综合年收入<u>25w+</u></span>
<span class="l" style="left:791px;top:862.8px;">弱口令概述、分类、危害</span>
<span class="l" style="left:791px;top:890.8px;">常见的弱口令与账号收集，口令破解方式</span>
<span class="l" style="left:645px;top:876.8px;">弱口令基本概念</span>
<span class="l" style="left:746px;top:918.8px;">常见的弱口令爆破工具</span>
<span class="l" style="left:746px;top:946.8px;">弱口令破解-实验</span>
<span class="l" style="left:645px;top:932.8px;">口令爆破</span>
<span class="l" style="left:978px;top:1042.5px;"><i>XSS</i>简介、分类（反射型、存储型和<i>DOM</i>）</span>
<span class="l" style="left:978px;top:1070.5px;">同源策略概述、<i>HTML</i>过滤</span>
<span class="l" style="left:978px;top:1098.5px;"><i>HTTP</i>-O<b>nly</b>、X-F<b>rame</b></span>
<span class="l" style="left:804px;top:1070.5px;"><i>XSS</i>漏洞利用与防御</span>
<span class="l" style="left:1032px;top:1126.5px;">编码绕过</span>
<span class="l" style="left:1032px;top:1154.5px;">利用<i>HTML</i>属性绕过、长度限制绕过</span>
<span class="l" style="left:1032px;top:1182.5px;"><i>CSS</i>跨站解析</span>
<span class="l" style="left:804px;top:1154.5px;"><i>XSS</i>绕过方法     大小写绕过</span>
<span class="l" style="left:1281px;top:863.3px;"><i>CSRF</i>简介（C<b>ookie</b>和S<b>ession</b>基础）</span>
<span class="l" style="left:1281px;top:891.3px;"><i>CSRF</i>攻击原理和类型</span>
<span class="l" style="left:1143px;top:877.3px;"><i>CSRF</i>漏洞利用</span>
<span class="l" style="left:1296.3px;top:919.3px;"><i>CSRF</i>实例讲解</span>
<span class="l" style="left:1296.3px;top:947.3px;"><i>CSRF</i>进阶与防御</span>
<span class="l" style="left:1143px;top:933.3px;"><i>CSRF</i>实例与进阶</span>
<span class="l" style="left:1492px;top:1042.5px;"><i>SSRF</i>简介、成因与危害</span>
<span class="l" style="left:1492px;top:1070.5px;"><i>SSRF</i>的挖掘与利用</span>
<span class="l" style="left:1355px;top:1056.5px;"><i>SSRF</i>漏洞利用</span>
<span class="l" style="left:1507px;top:1098.5px;"><i>SSRF</i>实例讲解</span>
<span class="l" style="left:1507px;top:1126.5px;"><i>SSRF</i>防御与绕过</span>
<span class="l" style="left:1355px;top:1112.5px;"><i>SSRF</i>实例与进阶</span>
<span class="l" style="left:1605.6px;top:863.3px;"><i>XXE</i>漏洞基础</span>
<span class="l" style="left:1734.6px;top:863.3px;"><i>XXE</i>简介与<i>XML</i>基础</span>
<span class="l" style="left:1779.7px;top:891.3px;"><i>XXE</i>漏洞原理与分类</span>
<span class="l" style="left:1779.7px;top:919.3px;"><i>XXE</i>高阶利用与防御</span>
<span class="l" style="left:1779.7px;top:947.3px;"><i>XXE</i>实例讲解</span>
<span class="l" style="left:1605.6px;top:919.3px;"><i>XXE</i>漏洞利用与防御</span>
<span class="l" style="left:1877.7px;top:1039.7px;">P<b>ython</b>开发环境配置</span>
<span class="l" style="left:1877.7px;top:1067.7px;">P<b>ython</b>基础语法之字符串</span>
<span class="l" style="left:1877.7px;top:1095.7px;">P<b>ython</b>基础语法之列表与元组</span>
<span class="l" style="left:1877.7px;top:1123.7px;">P<b>ython</b>基础语法之集合与字典</span>
<span class="l" style="left:1877.7px;top:1151.7px;">P<b>ython</b>基础语法之控制流程</span>
<span class="l" style="left:1877.7px;top:1179.7px;">P<b>ython</b>函数与模块</span>
<span class="l" style="left:1877.7px;top:1207.7px;">P<b>ython</b>正则表达式</span>
<span class="l" style="left:1877.7px;top:1235.7px;">P<b>ython</b>爬虫基础</span>
<span class="l" style="left:1725.6px;top:1137.7px;">P<b>ython</b>编程基础</span>
<span class="l" style="left:2094.6px;top:695.3px;">注入技巧分类</span>
<span class="l" style="left:2094.6px;top:723.3px;">获取数据方式</span>
<span class="l" style="left:1993.8px;top:709.3px;">注入分类</span>
<span class="l" style="left:2094.6px;top:751.3px;">常见注入点总结</span>
<span class="l" style="left:2094.6px;top:779.3px;">数据库检测</span>
<span class="l" style="left:2094.6px;top:807.3px;">测试用常量</span>
<span class="l" style="left:1993.8px;top:779.3px;">注入检测</span>
<span class="l" style="left:2094.6px;top:835.3px;">大小写绕过</span>
<span class="l" style="left:2094.6px;top:863.3px;">注释绕过</span>
<span class="l" style="left:2094.6px;top:891.3px;">截断绕过</span>
<span class="l" style="left:2094.6px;top:919.3px;">多重编码绕过</span>
<span class="l" style="left:2094.6px;top:947.3px;"><i>SQL</i>注入综合利用</span>
<span class="l" style="left:1993.8px;top:891.3px;">绕过技巧</span>
<span class="l" style="left:2326.8px;top:1042.5px;">漏洞概述、上传点、上传流程和检测原理</span>
<span class="l" style="left:2326.8px;top:1070.5px;">一句话木马、上传绕过方法</span>
<span class="l" style="left:2196px;top:1056.5px;">任意文件上传</span>
<span class="l" style="left:2342px;top:1098.5px;">漏洞概述</span>
<span class="l" style="left:2342px;top:1126.5px;"><i>IIS</i>、A<b>pache</b>、N<b>gix</b>等解析漏洞分析与防御</span>
<span class="l" style="left:2196px;top:1112.5px;">服务器解析漏洞</span>
<span class="l" style="left:2326.8px;top:1154.5px;">漏洞概述、利用条件和危害</span>
<span class="l" style="left:2326.8px;top:1182.5px;">漏洞利用分析与防御方法</span>
<span class="l" style="left:2196px;top:1168.5px;">任意文件下载</span>
<span class="l" style="left:2326.8px;top:1210.5px;">漏洞概述、特征、利用条件和危害</span>
<span class="l" style="left:2326.8px;top:1238.5px;">漏洞利用与防护</span>
<span class="l" style="left:2196px;top:1224.5px;">文件包含漏洞</span>
<span class="l" style="left:2374px;top:861.6px;">业务逻辑漏洞基础</span>
<span class="l" style="left:2535.2px;top:861.6px;">业务逻辑漏洞简介、危害和成因</span>
<span class="l" style="left:2475px;top:889.6px;">验证码突破、认证安全、业务授权安全、业务一致性安全</span>
<span class="l" style="left:2475px;top:917.6px;">业务流程乱序、业务数据篡改、业务接口调用</span>
<span class="l" style="left:2475px;top:945.6px;">用户输入合规性、时效绕过测试、密码找回漏洞</span>
<span class="l" style="left:2374px;top:917.6px;">漏洞场景</span>
<span class="l" style="left:2701.4px;top:1051.5px;"><i>CTF</i>简介</span>
<span class="l" style="left:2799.4px;top:1051.5px;"><i>CTF</i>发展史、赛制和赛程规划</span>
<span class="l" style="left:2817.5px;top:1079.5px;">密码学概述</span>
<span class="l" style="left:2817.5px;top:1107.5px;">古典密码学（凯撒、栅栏、换位等）</span>
<span class="l" style="left:2817.5px;top:1135.5px;">现代密码学（对称/非对称加密算法，哈希函数等）</span>
<span class="l" style="left:2701.4px;top:1107.5px;">密码学基础</span>
<span class="l" style="left:2829.3px;top:1163.5px;">密码学类题型</span>
<span class="l" style="left:2829.3px;top:1191.5px;">W<b>eb</b>类题型</span>
<span class="l" style="left:2829.3px;top:1219.5px;">隐写类题型</span>
<span class="l" style="left:2829.3px;top:1247.5px;">杂项类题型</span>
<span class="l" style="left:2829.3px;top:1275.5px;">二进制类题型</span>
<span class="l" style="left:2701.4px;top:1219.5px;"><i>CTF</i>竞赛题型</span>
<span class="l" style="left:3036px;top:779.3px;">漏洞挖掘</span>
<span class="l" style="left:3036px;top:807.3px;">安全检查</span>
<span class="l" style="left:2965px;top:793.3px;">项目</span>
<span class="l" style="left:2965px;top:835.3px;">证书</span>
<span class="l" style="left:3036px;top:835.3px;"><i>CISP</i>-<i>PTE</i></span>
<span class="l" style="left:3066px;top:863.3px;">安全服务工程师</span>
<span class="l" style="left:3066px;top:891.3px;">安全运营工程师</span>
<span class="l" style="left:3066px;top:919.3px;">渗透测试工程师</span>
<span class="l" style="left:3066px;top:947.3px;">安全研究员</span>
<span class="l" style="left:2965px;top:905.3px;">就业岗位</span>
<span class="st" style="left:347.6px;top:1585.5px;color:#0a0a0a">阶段3：高阶提升</span>
<span class="t" style="left:575px;top:1585.5px;color:#111">反序列化漏洞</span>
<span class="t" style="left:744.3px;top:1585.5px;font-weight:300;font-size:17px;color:#222;letter-spacing:-.5px;font-family:'Noto Sans CJK SC',sans-serif">RCE</span>
<span class="t" style="left:1067.7px;top:1585.5px;">综合靶场实操项目</span>
<span class="t" style="left:1293.8px;top:1585.5px;">内网渗透</span>
<span class="t" style="left:1656px;top:1585.5px;">流量分析</span>
<span class="t" style="left:1786.8px;top:1585.5px;">日志分析</span>
<span class="t" style="left:2137px;top:1585.5px;">恶意代码分析</span>
<span class="t" style="left:2272.8px;top:1585px;color:#e8300a;font-weight:900;font-size:17.8px">应急</span>
<span class="t" style="left:2312px;top:1585.5px;">响应</span>
<span class="t" style="left:2543.6px;top:1585.5px;">实战训练</span>
<span class="t" style="left:2666.2px;top:1585.5px;color:#ff0000;font-weight:400;text-shadow:.8px 0 #ff0000">三阶段你收获什么?</span>
<span class="t" style="left:2879px;top:1585.5px;color:#fd0808">综合年收入<u>30w+</u></span>
<span class="l" style="left:644px;top:1418.2px;">反序列化漏洞基础</span>
<span class="l" style="left:804.8px;top:1397.8px;">反序列化漏洞原理和成因</span>
<span class="l" style="left:804.8px;top:1425.9px;">序列化与反序列化概念</span>
<span class="l" style="left:790px;top:1453.8px;"><i>PHP</i>反序列化</span>
<span class="l" style="left:790px;top:1481.8px;">魔法函数</span>
<span class="l" style="left:790px;top:1509.8px;">J<b>ava</b>反序列化</span>
<span class="l" style="left:790px;top:1537.8px;">反序列化漏洞利用案例与防御方法</span>
<span class="l" style="left:644px;top:1495.8px;">漏洞利用与防御</span>
<span class="l" style="left:876px;top:1627.6px;">命令执行函数、漏洞点、成因以及危害</span>
<span class="l" style="left:876px;top:1655.6px;">命令执行案例详解（命令连接符||、|、&amp;&amp;、&amp;、；等）</span>
<span class="l" style="left:774.6px;top:1641.6px;">命令执行</span>
<span class="l" style="left:876px;top:1683.6px;">代码执行函数、漏洞点、成因以及危害</span>
<span class="l" style="left:876px;top:1711.6px;">代码执行案例详解（命令连接符||、|、&amp;&amp;、&amp;、；等）</span>
<span class="l" style="left:774.6px;top:1697.6px;">代码执行</span>
<span class="l" style="left:1137px;top:1312.3px;"><i>OA</i>系统</span>
<span class="l" style="left:1234px;top:1312.3px;">致远、蓝凌、用友、海康威视、通达、泛微</span>
<span class="l" style="left:1137px;top:1340.3px;"><b>cms</b>系统</span>
<span class="l" style="left:1237px;top:1340.3px;">织梦<i>CMS</i>、熊海<i>CMS</i>、骑士<i>CMS</i></span>
<span class="l" style="left:1137px;top:1368.3px;">E<b>ditor</b>编辑器</span>
<span class="l" style="left:1267.3px;top:1368.3px;">U<b>editor</b>、K<b>indeditor</b>、F<b>ckeditor</b>、E<b>webeditor</b></span>
<span class="l" style="left:1137px;top:1396.3px;">热门框架</span>
<span class="l" style="left:1238px;top:1396.3px;"><b>thinkphp</b>、锐捷网关、S<b>truts</b></span>
<span class="l" style="left:1223.4px;top:1424.3px;">A<b>pache</b>、T<b>omcat</b>、W<b>eblogic</b>、J<b>boss</b></span>
<span class="l" style="left:1223.4px;top:1452.3px;">N<b>ginx</b></span>
<span class="l" style="left:1223.4px;top:1480.3px;">G<b>lassfish</b></span>
<span class="l" style="left:1223.4px;top:1508.3px;">W<b>eb</b>S<b>phere</b></span>
<span class="l" style="left:1223.4px;top:1536.3px;"><i>IIS</i></span>
<span class="l" style="left:1137px;top:1480.3px;">中间件</span>
<span class="l" style="left:1432.4px;top:1632.7px;"><b>meterpreter</b>端口转发与代理</span>
<span class="l" style="left:1432.4px;top:1660.7px;">P<b>roxifier</b>、<b>regeorg</b></span>
<span class="l" style="left:1432.4px;top:1688.7px;"><b>earthworm</b>、<b>mimikatz</b></span>
<span class="l" style="left:1331px;top:1660.7px;">工具简介</span>
<span class="l" style="left:1331px;top:1716.7px;">转发与代理</span>
<span class="l" style="left:1447px;top:1716.7px;"><b>ssh</b>转发与代理</span>
<span class="l" style="left:1331px;top:1744.7px;">远程管理</span>
<span class="l" style="left:1432.4px;top:1744.7px;">远程管理工具与数据库连接工具的解密</span>
<span class="l" style="left:1331px;top:1772.7px;">实验演示</span>
<span class="l" style="left:1432.4px;top:1772.7px;"><b>ms17</b>-<b>010</b>与<i>FB</i>框架</span>
<span class="l" style="left:1331px;top:1800.7px;">域渗透</span>
<span class="l" style="left:1417.2px;top:1800.7px;">域渗透</span>
<span class="l" style="left:1691px;top:1509.5px;">工具简介</span>
<span class="l" style="left:1791.8px;top:1509.5px;">W<b>ireshark</b>、T<b>cpdump</b></span>
<span class="l" style="left:1691px;top:1537.5px;">实验演示</span>
<span class="l" style="left:1791.8px;top:1537.5px;">数据包分析（<b>chopper</b>与<b>sqlmap</b>流量分析）</span>
<span class="l" style="left:1825px;top:1634.4px;">日志分析简介</span>
<span class="l" style="left:1956.3px;top:1634.4px;">常见中间件日志位置</span>
<span class="l" style="left:1825px;top:1662.4px;">工具简介</span>
<span class="l" style="left:1926.5px;top:1662.4px;">常用工具(<b>emeditor</b>等、<b>egrep</b>)</span>
<span class="l" style="left:1825px;top:1690.4px;">实验演示</span>
<span class="l" style="left:1926.5px;top:1690.4px;">日志分析案例</span>
<span class="l" style="left:2191.3px;top:1481.5px;">工具简介</span>
<span class="l" style="left:2292px;top:1481.5px;">常见的W<b>ebshell</b>及其连接工具</span>
<span class="l" style="left:2292px;top:1509.5px;">恶意进程</span>
<span class="l" style="left:2292px;top:1537.5px;">W<b>ebshell</b>扫描(<b>d</b>盾、<b>egrep</b>)</span>
<span class="l" style="left:2191.3px;top:1523.5px;">实验演示</span>
<span class="l" style="left:2504px;top:1632.7px;"><b>windows</b>命令及工具</span>
<span class="l" style="left:2504px;top:1660.7px;"><b>linux</b>命令及工具</span>
<span class="l" style="left:2328.2px;top:1646.7px;">应急响应及工具简介</span>
<span class="l" style="left:2328.2px;top:1688.7px;">流程</span>
<span class="l" style="left:2399px;top:1688.7px;">应急响应流程</span>
<span class="l" style="left:2581.7px;top:1341.5px;">渗透测试实战</span>
<span class="l" style="left:2581.7px;top:1369.5px;">网站安全巡检</span>
<span class="l" style="left:2581.7px;top:1397.5px;">安全测试与评估</span>
<span class="l" style="left:2581.7px;top:1425.5px;">安全运维驻场</span>
<span class="l" style="left:2581.7px;top:1453.5px;">等保测评进场</span>
<span class="l" style="left:2581.7px;top:1481.5px;">真实<i>CTF</i>比赛</span>
<span class="l" style="left:2581.7px;top:1509.5px;">护网行动和重保项目</span>
<span class="l" style="left:2581.7px;top:1537.5px;">应急与攻防演练</span>
<span class="l" style="left:2829px;top:1632.7px;">渗透测试</span>
<span class="l" style="left:2829px;top:1660.7px;">漏洞挖掘</span>
<span class="l" style="left:2829px;top:1688.7px;">安全检查</span>
<span class="l" style="left:2758px;top:1660.7px;">项目</span>
<span class="l" style="left:2758px;top:1716.7px;">证书</span>
<span class="l" style="left:2829px;top:1716.7px;"><i>CISP</i>-<i>PTE</i></span>
<span class="l" style="left:2858.9px;top:1744.7px;">安全服务工程师</span>
<span class="l" style="left:2858.9px;top:1772.7px;">安全运营工程师</span>
<span class="l" style="left:2858.9px;top:1800.7px;">渗透测试工程师</span>
<span class="l" style="left:2858.9px;top:1828.7px;">应急响应工程师</span>
<span class="l" style="left:2858.9px;top:1856.7px;">代码审计工程师</span>
<span class="l" style="left:2858.9px;top:1884.7px;">安全漏洞研究员</span>
<span class="l" style="left:2758px;top:1814.7px;">就业岗位</span>
<span class="st" style="left:347.6px;top:2417.5px;color:#0a0a0a">阶段4-升级：蓝队课程</span>
<span class="t" style="left:593px;top:2417.5px;font-weight:500">蓝队基础</span>
<span class="t" style="left:697px;top:2417.5px;font-weight:500">蓝队进阶</span>
<span class="t" style="left:966.6px;top:2417.5px;color:#fd0808">攻防兼备，综合年收入<u>40w+</u></span>
<span class="t" style="left:1213px;top:2417.5px;color:#fd0808">每周比别人多花<u>6</u>个小时，技术改变命运</span>
<span class="l" style="left:880px;top:1921px;">安全意识</span>
<span class="l" style="left:880px;top:1949px;">安全运营</span>
<span class="l" style="left:880px;top:1977px;"><i>ATT</i>&amp;<i>CK</i></span>
<span class="l" style="left:880px;top:2005px;">等保测评</span>
<span class="l" style="left:880px;top:2033px;">安全合规</span>
<span class="l" style="left:644px;top:1977px;">安全管理、政策、标准和意识</span>
<span class="l" style="left:819.7px;top:2061px;">工具使用</span>
<span class="l" style="left:819.7px;top:2089px;">资产梳理</span>
<span class="l" style="left:819.7px;top:2117px;">拓扑管理</span>
<span class="l" style="left:819.7px;top:2145px;">安全配置基线</span>
<span class="l" style="left:819.7px;top:2173px;">弱口令</span>
<span class="l" style="left:819.7px;top:2201px;">高风险利用</span>
<span class="l" style="left:644px;top:2131px;">资产管理与基线排查</span>
<span class="l" style="left:775.2px;top:2229px;">防火墙、蜜罐</span>
<span class="l" style="left:775.2px;top:2257px;"><i>IDS</i>、<i>IPS</i>、态势感知</span>
<span class="l" style="left:644px;top:2243px;">网络安全产品</span>
<span class="l" style="left:775.2px;top:2285px;">系统加固</span>
<span class="l" style="left:775.2px;top:2313px;">路由及网络设备</span>
<span class="l" style="left:775.2px;top:2341px;">数据库加固</span>
<span class="l" style="left:775.2px;top:2369px;"><b>web</b>中间件加固</span>
<span class="l" style="left:644px;top:2327px;">加固技术基础</span>
<span class="l" style="left:747.6px;top:2464.5px;">加固技术实操</span>
<span class="l" style="left:879.3px;top:2464.5px;">系统加固实操</span>
<span class="l" style="left:747.6px;top:2492.5px;">数据库加固实操</span>
<span class="l" style="left:747.6px;top:2520.5px;"><b>web</b>中间件加固实操</span>
<span class="l" style="left:818.7px;top:2548.5px;"><b>web</b>日志基础</span>
<span class="l" style="left:818.7px;top:2576.5px;"><b>web</b>日志实训</span>
<span class="l" style="left:818.7px;top:2604.5px;">系统日志基础</span>
<span class="l" style="left:818.7px;top:2632.5px;">系统日志实训</span>
<span class="l" style="left:818.7px;top:2660.5px;">流量监控和分析基础</span>
<span class="l" style="left:818.7px;top:2688.5px;">流量监控和分析实训</span>
<span class="l" style="left:747.6px;top:2618.5px;">研判</span>
<span class="l" style="left:849px;top:2716.5px;">安全事件分类</span>
<span class="l" style="left:849px;top:2744.5px;">安全事件分级</span>
<span class="l" style="left:849px;top:2772.5px;">安全响应执行流程简介</span>
<span class="l" style="left:849px;top:2800.5px;">安全响应执行方法论</span>
<span class="l" style="left:849px;top:2828.5px;">被入侵的主机排查基础</span>
<span class="l" style="left:849px;top:2856.5px;">被入侵的主机排查方法</span>
<span class="l" style="left:747.6px;top:2786.5px;">应急响应</span>
<span class="st" style="left:347.6px;top:2997.5px;color:#0a0a0a">阶段5-升级：面试指南</span>
<span class="t" style="left:593.4px;top:2997.5px;color:#111">职业路线图和个人发展</span>
<span class="t" style="left:793.4px;top:2997.5px;color:#111">跳槽篇</span>
<span class="t" style="left:880.7px;top:2997.5px;color:#111">实操篇</span>
<span class="t" style="left:1040.6px;top:2997.5px;color:#111">我们不仅仅是网络安全工程师</span>
<span class="l" style="left:692px;top:2893px;">职场分析和定位调整</span>
<span class="l" style="left:692px;top:2921px;">职涯经验和建议</span>
<span class="l" style="left:692px;top:2949px;">如何打动面试官?</span>
<span class="l" style="left:836.3px;top:3044px;">跳槽为了什么？不为什么？</span>
<span class="l" style="left:836.3px;top:3072px;">跳槽的意义和原则</span>
<span class="l" style="left:836.3px;top:3100px;">跳槽的节奏和路线图</span>
<span class="l" style="left:924.4px;top:2893px;">求职材料应该如何写</span>
<span class="l" style="left:924.4px;top:2921px;">寻找求职渠道</span>
<span class="l" style="left:924.4px;top:2949px;">面试准备及总结</span>
<span class="l" style="left:1163px;top:3044px;">社会责任感</span>
<span class="l" style="left:1163px;top:3072px;">分享和传递价值</span>
<span class="l" style="left:1163px;top:3100px;">建立个人品牌</span>
<span class="l" style="left:1163px;top:3128px;">观察潮流和市场</span>

</div></body></html>
